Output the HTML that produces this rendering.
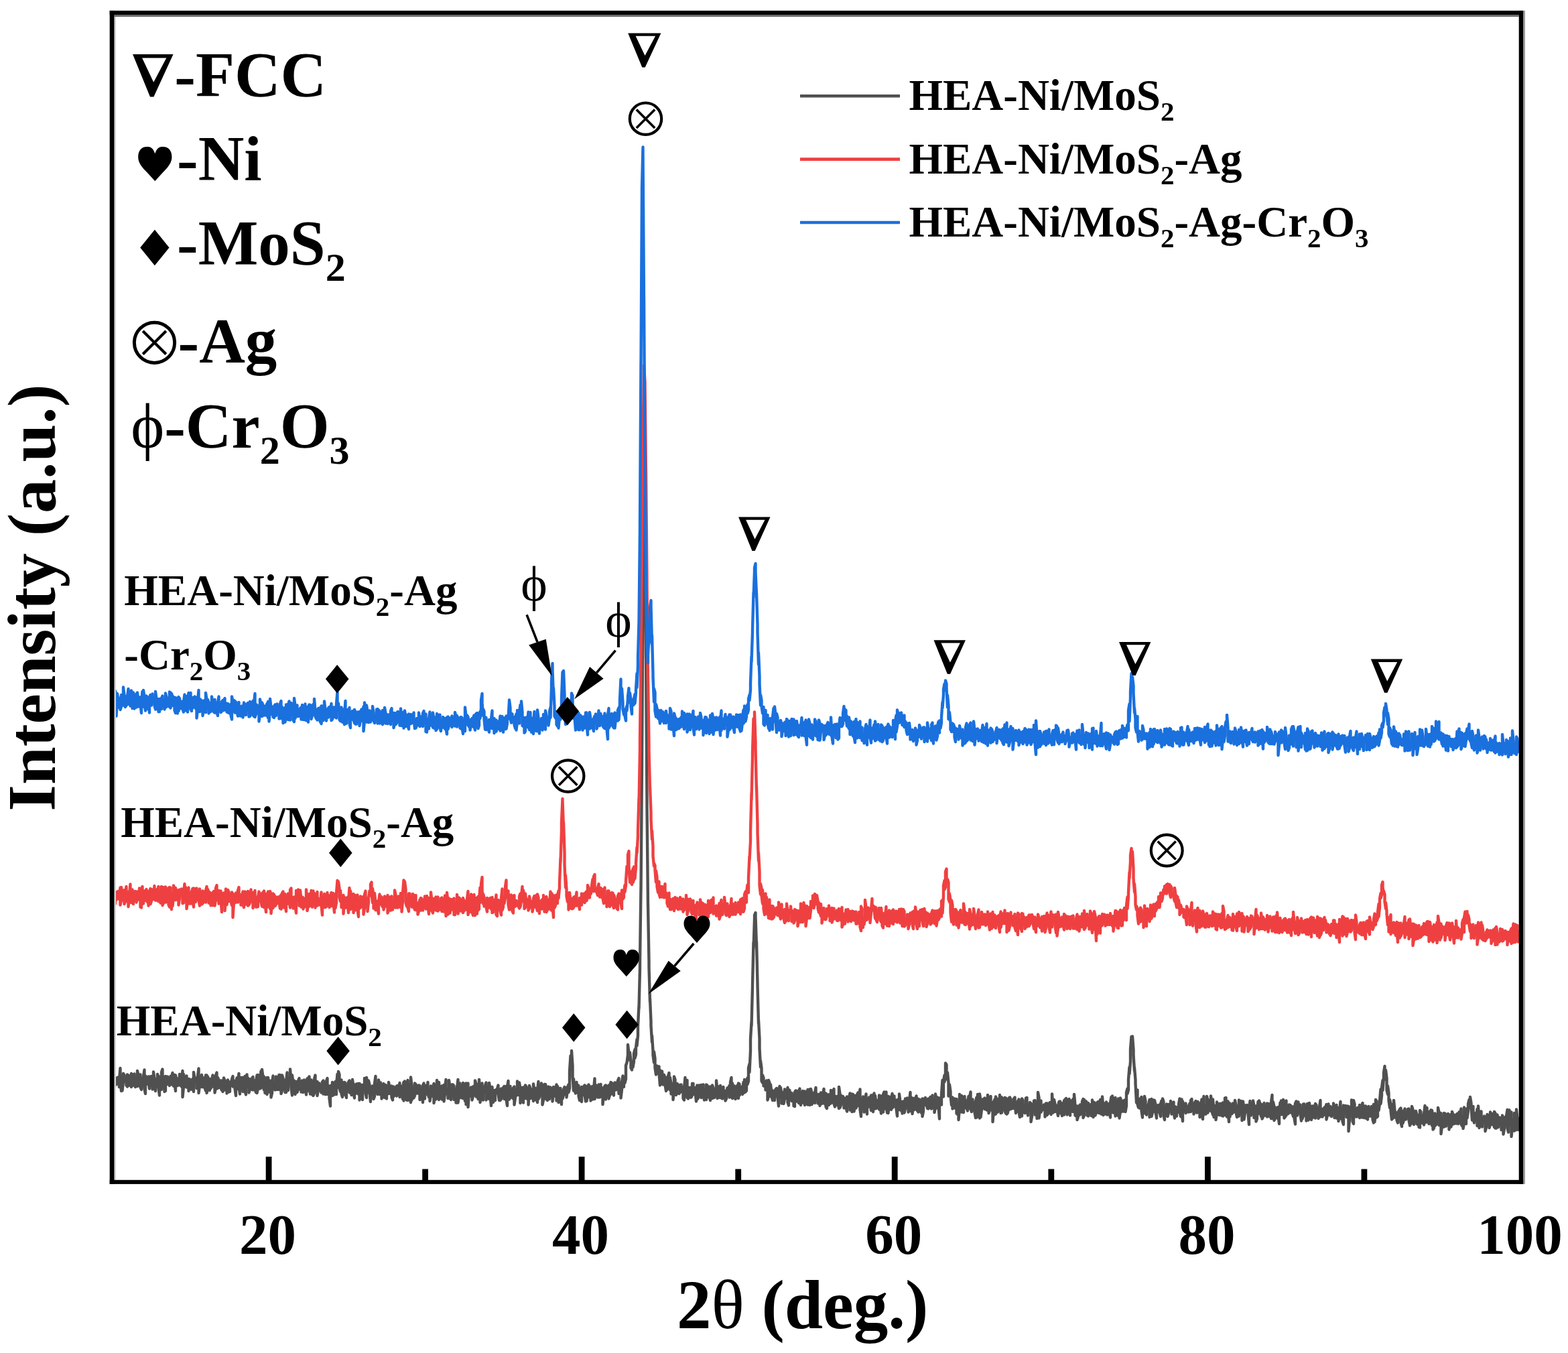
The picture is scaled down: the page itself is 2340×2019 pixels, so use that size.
<!DOCTYPE html><html><head><meta charset="utf-8"><style>html,body{margin:0;padding:0;background:#fff;}svg{display:block}</style></head><body>
<svg width="2340" height="2019" viewBox="0 0 2340 2019" font-family="'Liberation Serif', serif">
<rect width="2340" height="2019" fill="#fff"/>
<defs><clipPath id="pa"><rect x="171" y="23" width="2096" height="1738"/></clipPath></defs>
<g clip-path="url(#pa)" fill="none" stroke-linejoin="round" stroke-linecap="butt">
<path transform="scale(0.5)" d="M341 3208l0 29 3 2 0 -20 3 7 0 8 3 1 0 -19 3 -1 0 12 3 17 0 -22 3 -34 0 36 3 32 0 -45 3 10 0 34 3 -26 0 -25 3 5 0 17 3 2 0 -8 3 -5 0 24 3 4 0 -36 3 2 0 31 3 -9 0 -20 3 10 0 17 3 6 0 -40 3 12 0 24 3 -14 0 -19 3 -2 0 33 3 6 0 -29 3 16 0 9 3 2 0 -46 3 12 0 24 3 8 0 -21 3 -12 0 38 3 7 0 -34 3 7 0 15 3 -3 0 -24 3 -20 0 56 3 15 0 -53 3 5 0 20 3 -4 0 -16 3 -3 0 15 3 21 0 -36 3 10 0 13 3 4 0 -28 3 2 0 37 3 -20 0 -32 3 21 0 21 3 15 0 -24 3 -11 0 9 3 11 0 -35 3 7 0 34 3 22 0 -53 3 -3 0 28 3 11 0 -52 3 -9 0 52 3 2 0 -31 3 0 0 44 3 -2 0 -44 3 4 0 21 3 -9 0 -15 3 11 0 6 3 10 0 -15 3 -13 0 25 3 -1 0 -22 3 -12 0 34 3 5 0 -31 3 -2 0 25 3 23 0 -47 3 16 0 10 3 5 0 -20 3 -2 0 19 3 2 0 -33 3 5 0 20 3 12 0 -25 3 -22 0 78 3 -31 0 -37 3 18 0 19 3 -6 0 -19 3 -7 0 34 3 -3 0 -9 3 -13 0 36 3 -27 0 -8 3 6 0 24 3 0 0 -24 3 -7 0 10 3 28 0 -58 3 19 0 11 3 -1 0 -12 3 7 0 24 3 -7 0 -28 3 -24 0 73 3 -22 0 -27 3 8 0 19 3 4 0 -36 3 19 0 17 3 0 0 -27 3 5 0 24 3 9 0 -46 3 0 0 53 3 -11 0 -38 3 10 0 24 3 7 0 -22 3 -12 0 28 3 -5 0 -21 3 -13 0 22 3 12 0 -22 3 -8 0 48 3 -15 0 -36 3 -9 0 48 3 -1 0 -32 3 7 0 23 3 -4 0 -12 3 -5 0 22 3 7 0 -28 3 -2 0 34 3 -17 0 -24 3 7 0 29 3 -7 0 -19 3 2 0 34 3 -29 0 -11 3 11 0 25 3 -1 0 -23 3 -7 0 9 3 3 0 -19 3 -9 0 31 3 -1 0 -17 3 6 0 17 3 22 0 -37 3 -16 0 19 3 14 0 -21 3 -25 0 38 3 23 0 -50 3 2 0 33 3 -7 0 -27 3 0 0 42 3 -12 0 -27 3 -7 0 44 3 11 0 -43 3 -17 0 20 3 16 0 -26 3 26 0 18 3 -12 0 -28 3 -1 0 31 3 1 0 -33 3 -5 0 39 3 -7 0 -12 3 -9 0 25 3 10 0 -32 3 -19 0 53 3 -14 0 -40 3 2 0 30 3 9 0 -18 3 -34 0 50 3 -10 0 -45 3 23 0 16 3 22 0 -40 3 11 0 38 3 0 0 -31 3 -15 0 50 3 -18 0 -32 3 17 0 13 3 14 0 -33 3 -2 0 50 3 -13 0 -30 3 -21 0 39 3 -4 0 -16 3 8 0 15 3 -26 0 -14 3 16 0 23 3 -20 0 -9 3 -15 0 44 3 -11 0 -32 3 0 0 55 3 -9 0 -46 3 10 0 31 3 1 0 -24 3 -3 0 36 3 0 0 -32 3 -27 0 53 3 0 0 -18 3 -19 0 16 3 0 0 -42 3 37 0 17 3 24 0 -60 3 24 0 30 3 -14 0 -24 3 11 0 30 3 -33 0 -5 3 14 0 18 3 -12 0 -22 3 -8 0 33 3 -11 0 -13 3 18 0 14 3 -10 0 -24 3 10 0 25 3 -14 0 -23 3 9 0 14 3 21 0 -35 3 -13 0 38 3 -14 0 -24 3 -6 0 28 3 24 0 -25 3 -17 0 36 3 8 0 -39 3 8 0 34 3 -7 0 -43 3 -11 0 35 3 14 0 -27 3 -3 0 42 3 -19 0 -12 3 -6 0 12 3 10 0 -17 3 4 0 19 3 -11 0 -21 3 -4 0 40 3 -14 0 -17 3 -4 0 36 3 0 0 -39 3 -9 0 39 3 9 0 -24 3 -1 0 37 3 23 0 -58 3 -4 0 30 3 1 0 -40 3 4 0 18 3 15 0 -31 3 -8 0 22 3 16 0 -27 3 -33 0 40 3 -15 0 -33 3 9 0 40 3 11 0 -28 3 -7 0 41 3 10 0 -44 3 3 0 27 3 7 0 -37 3 2 0 32 3 12 0 -31 3 -5 0 13 3 -8 0 -15 3 -5 0 36 3 1 0 -32 3 30 0 8 3 -5 0 -41 3 22 0 18 3 15 0 -40 3 3 0 19 3 4 0 -28 3 0 0 25 3 5 0 -31 3 0 0 49 3 -19 0 -27 3 3 0 27 3 15 0 -44 3 9 0 2 3 7 0 -38 3 34 0 12 3 12 0 -60 3 24 0 22 3 -29 0 -8 3 13 0 19 3 31 0 -37 3 -8 0 22 3 1 0 -25 3 8 0 31 3 -8 0 -38 3 -22 0 39 3 10 0 -25 3 0 0 30 3 -2 0 -41 3 22 0 21 3 0 0 -35 3 29 0 19 3 -9 0 -25 3 -11 0 28 3 14 0 -34 3 -4 0 12 3 29 0 -38 3 1 0 23 3 -5 0 -30 3 16 0 18 3 0 0 -15 3 -8 0 34 3 8 0 -31 3 -9 0 29 3 -5 0 -21 3 8 0 9 3 8 0 -30 3 -1 0 16 3 10 0 -10 3 -24 0 42 3 -10 0 -23 3 9 0 11 3 19 0 -35 3 -15 0 55 3 -22 0 -36 3 9 0 30 3 17 0 -35 3 -24 0 60 3 -13 0 -35 3 7 0 29 3 18 0 -75 3 25 0 43 3 -25 0 -13 3 8 0 24 3 -7 0 -37 3 3 0 22 3 5 0 -23 3 6 0 14 3 4 0 -25 3 1 0 42 3 -5 0 -25 3 -4 0 15 3 27 0 -50 3 -7 0 34 3 12 0 -37 3 -2 0 26 3 -6 0 -6 3 -24 0 35 3 9 0 -22 3 14 0 20 3 -19 0 -26 3 13 0 15 3 3 0 -24 3 -14 0 58 3 -18 0 -21 3 -14 0 42 3 -11 0 -46 3 20 0 23 3 15 0 -52 3 38 0 10 3 -12 0 -13 3 -12 0 40 3 -3 0 -29 3 -11 0 49 3 -22 0 -12 3 -31 0 42 3 1 0 -9 3 -5 0 27 3 -33 0 -21 3 20 0 32 3 6 0 -31 3 -14 0 35 3 -2 0 -33 3 4 0 41 3 -7 0 -24 3 0 0 40 3 -24 0 -20 3 -25 0 69 3 -20 0 -15 3 -23 0 27 3 16 0 -25 3 -11 0 37 3 1 0 -46 3 4 0 23 3 27 0 -48 3 -5 0 63 3 -21 0 -34 3 -8 0 71 3 -43 0 -13 3 9 0 14 3 -3 0 -23 3 14 0 24 3 -13 0 -27 3 -2 0 28 3 -8 0 -36 3 10 0 38 3 -4 0 -26 3 -7 0 44 3 -10 0 -48 3 44 0 24 3 -15 0 -28 3 -14 0 38 3 12 0 -22 3 -16 0 9 3 7 0 -21 3 -9 0 52 3 -12 0 -12 3 -16 0 9 3 28 0 -48 3 16 0 20 3 32 0 -34 3 -22 0 35 3 11 0 -32 3 -4 0 18 3 12 0 -26 3 -6 0 10 3 1 0 -13 3 -11 0 26 3 19 0 -33 3 1 0 32 3 -4 0 -31 3 1 0 14 3 9 0 -26 3 -5 0 38 3 -1 0 -25 3 -12 0 40 3 18 0 -56 3 -18 0 37 3 18 0 -25 3 -14 0 35 3 -8 0 -10 3 -9 0 23 3 6 0 -32 3 -4 0 54 3 -22 0 -23 3 1 0 17 3 -8 0 -35 3 21 0 20 3 0 0 -37 3 18 0 43 3 -21 0 -25 3 8 0 25 3 12 0 -46 3 10 0 12 3 11 0 -39 3 5 0 17 3 19 0 -32 3 18 0 31 3 -42 0 -15 3 9 0 29 3 -9 0 -17 3 9 0 6 3 19 0 -51 3 21 0 27 3 -16 0 -19 3 22 0 8 3 12 0 -37 3 -25 0 52 3 -6 0 -26 3 -9 0 30 3 -15 0 -21 3 22 0 42 3 -15 0 -38 3 -8 0 37 3 6 0 -43 3 16 0 29 3 3 0 -31 3 -10 0 28 3 9 0 -27 3 -8 0 22 3 6 0 -24 3 0 0 38 3 -26 0 -17 3 12 0 15 3 -4 0 -16 3 -14 0 48 3 -8 0 -35 3 7 0 41 3 -8 0 -28 3 -6 0 33 3 15 0 -36 3 -3 0 22 3 -12 0 -15 3 -8 0 14 3 8 0 -14 3 -6 0 29 3 -23 0 -8 3 -7 0 23 3 -12 0 -50 3 -47 0 28 3 -1 0 -42 3 45 0 32 3 42 0 -35 3 24 0 9 3 10 0 -18 3 -15 0 25 3 5 0 -22 3 2 0 31 3 13 0 -36 3 11 0 17 3 12 0 -44 3 2 0 22 3 -6 0 -18 3 -5 0 28 3 20 0 -46 3 12 0 33 3 -25 0 -14 3 -10 0 32 3 6 0 -31 3 -1 0 42 3 -7 0 -34 3 -2 0 39 3 -18 0 -11 3 -33 0 61 3 -15 0 -27 3 13 0 17 3 7 0 -25 3 -13 0 28 3 10 0 -37 3 -2 0 37 3 -18 0 -7 3 -1 0 49 3 -32 0 -12 3 -11 0 24 3 16 0 -42 3 5 0 30 3 -19 0 -8 3 -8 0 40 3 -11 0 -21 3 -17 0 36 3 -11 0 -23 3 7 0 22 3 8 0 -23 3 -15 0 12 3 10 0 -7 3 -15 0 21 3 1 0 -28 3 -7 0 46 3 -1 0 -31 3 3 0 42 3 -25 0 -23 3 -18 0 22 3 11 0 -27 3 -3 0 18 3 -12 0 -40 3 -9 0 1 3 -24 0 -30 3 27 0 9 3 10 0 -23 3 26 0 20 3 6 0 -25 3 2 0 15 3 -17 0 -24 3 -12 0 26 3 -11 0 -20 3 -25 0 19 3 -30 0 -29 3 -61 0 9 3 -120 0 -20 3 -222 0 8 3 -375 0 -7 3 -495 0 12 3 -346 0 -22 3 75 0 27 3 438 0 -20 3 455 0 9 3 298 0 -8 3 173 0 17 3 104 0 -11 3 69 0 12 3 49 0 -19 3 45 0 13 3 22 0 -32 3 20 0 28 3 20 0 -25 3 -1 0 16 3 7 0 -15 3 -6 0 19 3 37 0 -45 3 6 0 31 3 4 0 -38 3 30 0 10 3 -7 0 -22 3 8 0 21 3 19 0 -20 3 -20 0 36 3 -6 0 -34 3 -10 0 43 3 8 0 -37 3 18 0 31 3 -13 0 -18 3 22 0 26 3 -31 0 -38 3 9 0 25 3 21 0 -21 3 -13 0 14 3 15 0 -26 3 13 0 14 3 -4 0 -22 3 -1 0 21 3 -3 0 -11 3 5 0 29 3 5 0 -36 3 -31 0 54 3 3 0 -45 3 -4 0 52 3 3 0 -34 3 15 0 14 3 1 0 -29 3 4 0 25 3 -6 0 -35 3 0 0 30 3 2 0 -20 3 5 0 6 3 30 0 -38 3 -10 0 42 3 -4 0 -23 3 -15 0 29 3 2 0 -13 3 -19 0 38 3 -18 0 -5 3 -16 0 27 3 19 0 -32 3 2 0 13 3 16 0 -45 3 2 0 21 3 14 0 -23 3 -7 0 27 3 13 0 -41 3 4 0 19 3 12 0 -39 3 8 0 21 3 8 0 -12 3 -14 0 20 3 -3 0 -42 3 30 0 23 3 -18 0 -17 3 4 0 29 3 -8 0 -28 3 10 0 27 3 2 0 -32 3 -3 0 8 3 25 0 -21 3 0 0 29 3 -6 0 -16 3 -16 0 17 3 -6 0 -8 3 -10 0 35 3 -5 0 -40 3 -14 0 56 3 6 0 -45 3 16 0 27 3 0 0 -35 3 9 0 30 3 -4 0 -29 3 -8 0 28 3 11 0 -45 3 2 0 34 3 -6 0 -20 3 13 0 6 3 4 0 -13 3 -23 0 21 3 10 0 -39 3 17 0 20 3 -4 0 -26 3 -12 0 19 3 -10 0 -39 3 -12 0 25 3 -64 0 -35 3 -51 0 12 3 -118 0 -5 3 -127 0 20 3 -90 0 -11 3 -7 0 12 3 88 0 -14 3 127 0 5 3 113 0 -11 3 56 0 29 3 56 0 -19 3 22 0 38 3 5 0 -22 3 8 0 24 3 1 0 -9 3 -5 0 25 3 -2 0 -26 3 27 0 31 3 -11 0 -48 3 8 0 39 3 1 0 -35 3 26 0 10 3 11 0 -29 3 6 0 15 3 8 0 -26 3 -7 0 22 3 -2 0 -23 3 3 0 20 3 30 0 -43 3 -16 0 32 3 -5 0 -23 3 23 0 24 3 -9 0 -24 3 6 0 28 3 -16 0 -27 3 8 0 19 3 -1 0 -6 3 -25 0 44 3 9 0 -47 3 2 0 28 3 -7 0 -5 3 -8 0 24 3 -6 0 -7 3 -6 0 34 3 1 0 -42 3 -5 0 33 3 -14 0 -18 3 14 0 15 3 7 0 -34 3 -9 0 36 3 13 0 -37 3 8 0 23 3 -7 0 -29 3 7 0 21 3 14 0 -41 3 8 0 30 3 -5 0 -23 3 -15 0 45 3 -13 0 -18 3 -15 0 47 3 -2 0 -46 3 13 0 33 3 -9 0 -23 3 -2 0 26 3 4 0 -30 3 -16 0 35 3 -2 0 -14 3 4 0 24 3 -3 0 -24 3 7 0 27 3 -18 0 -21 3 1 0 32 3 -2 0 -25 3 -17 0 41 3 4 0 -24 3 -8 0 40 3 5 0 -30 3 -11 0 24 3 7 0 -31 3 1 0 26 3 -1 0 -39 3 14 0 21 3 1 0 -33 3 -7 0 44 3 9 0 -32 3 1 0 26 3 -5 0 -18 3 -4 0 22 3 15 0 -64 3 21 0 41 3 -8 0 -29 3 10 0 14 3 -11 0 -10 3 7 0 28 3 -4 0 -25 3 0 0 27 3 12 0 -44 3 19 0 9 3 1 0 -24 3 -15 0 50 3 -23 0 -21 3 -4 0 53 3 -25 0 -27 3 19 0 32 3 -20 0 -27 3 12 0 25 3 -14 0 -26 3 -6 0 39 3 -5 0 -21 3 -23 0 60 3 21 0 -52 3 3 0 27 3 -14 0 -23 3 7 0 39 3 -13 0 -19 3 -22 0 33 3 27 0 -46 3 8 0 17 3 -4 0 -25 3 3 0 16 3 20 0 -45 3 0 0 19 3 30 0 -43 3 -12 0 21 3 25 0 -39 3 23 0 15 3 -5 0 -18 3 -2 0 17 3 11 0 -42 3 1 0 30 3 23 0 -42 3 -10 0 27 3 21 0 -53 3 -7 0 43 3 7 0 -22 3 -28 0 43 3 19 0 -25 3 -24 0 50 3 -30 0 -18 3 0 0 27 3 11 0 -28 3 -20 0 43 3 -3 0 -26 3 -7 0 31 3 -3 0 -17 3 1 0 25 3 23 0 -37 3 -13 0 19 3 12 0 -47 3 23 0 21 3 6 0 -27 3 8 0 27 3 -24 0 -12 3 -1 0 35 3 -12 0 -30 3 5 0 22 3 0 0 -29 3 19 0 23 3 -9 0 -20 3 -30 0 56 3 -18 0 -23 3 12 0 37 3 -28 0 -18 3 0 0 34 3 -3 0 -26 3 -12 0 36 3 8 0 -37 3 10 0 31 3 -15 0 -23 3 19 0 11 3 10 0 -27 3 -15 0 53 3 -16 0 -36 3 0 0 16 3 2 0 -22 3 11 0 9 3 12 0 -18 3 -11 0 30 3 -7 0 -11 3 -17 0 27 3 8 0 -18 3 -22 0 38 3 -12 0 -3 3 -11 0 39 3 -16 0 -39 3 22 0 8 3 12 0 -32 3 16 0 10 3 38 0 -62 3 1 0 18 3 1 0 -30 3 -43 0 39 3 10 0 -46 3 -18 0 20 3 -21 0 -35 3 5 0 20 3 24 0 -21 3 30 0 40 3 -4 0 -30 3 21 0 10 3 30 0 -13 3 -10 0 34 3 -2 0 -26 3 -2 0 22 3 7 0 -8 3 -20 0 43 3 3 0 -33 3 18 0 31 3 -37 0 -39 3 35 0 6 3 12 0 -49 3 14 0 5 3 31 0 -45 3 -3 0 35 3 -11 0 -12 3 13 0 8 3 10 0 -28 3 -15 0 33 3 3 0 -33 3 -16 0 49 3 10 0 -35 3 -2 0 29 3 2 0 -23 3 2 0 28 3 17 0 -49 3 -12 0 60 3 -16 0 -53 3 19 0 19 3 33 0 -72 3 21 0 48 3 -22 0 -31 3 17 0 9 3 -7 0 -20 3 -3 0 33 3 -4 0 -10 3 -17 0 34 3 1 0 -46 3 24 0 30 3 -9 0 -20 3 -21 0 35 3 6 0 -23 3 2 0 56 3 -40 0 -20 3 -7 0 45 3 -1 0 -52 3 15 0 16 3 15 0 -31 3 -9 0 28 3 6 0 -45 3 19 0 35 3 -1 0 -46 3 22 0 15 3 -13 0 -18 3 -5 0 40 3 7 0 -46 3 19 0 29 3 -4 0 -31 3 -13 0 36 3 -12 0 -26 3 6 0 29 3 -6 0 -12 3 -2 0 18 3 -9 0 -20 3 -4 0 18 3 29 0 -24 3 -9 0 29 3 -15 0 -16 3 -6 0 37 3 16 0 -36 3 -11 0 26 3 18 0 -52 3 5 0 20 3 16 0 -22 3 0 0 24 3 -3 0 -42 3 -1 0 27 3 26 0 -27 3 -4 0 18 3 -17 0 -9 3 3 0 55 3 -17 0 -35 3 9 0 12 3 1 0 -33 3 -1 0 43 3 -1 0 -32 3 -3 0 47 3 -16 0 -62 3 16 0 61 3 -23 0 -19 3 -10 0 34 3 -6 0 -9 3 -4 0 10 3 2 0 -15 3 6 0 30 3 -26 0 -14 3 0 0 35 3 -4 0 -28 3 -3 0 11 3 16 0 -30 3 6 0 30 3 -23 0 -38 3 38 0 18 3 -12 0 -27 3 13 0 23 3 -4 0 -15 3 1 0 14 3 16 0 -29 3 -13 0 17 3 17 0 -35 3 10 0 16 3 17 0 -20 3 -18 0 22 3 13 0 -42 3 -4 0 38 3 3 0 -44 3 7 0 42 3 -21 0 -20 3 -6 0 31 3 18 0 -29 3 -15 0 19 3 13 0 -12 3 -25 0 38 3 -11 0 -41 3 33 0 30 3 2 0 -27 3 -3 0 41 3 -10 0 -31 3 13 0 14 3 -1 0 -30 3 6 0 20 3 -7 0 -29 3 -7 0 56 3 -7 0 -47 3 13 0 21 3 -15 0 -14 3 18 0 24 3 2 0 -39 3 7 0 23 3 3 0 -22 3 -7 0 34 3 -28 0 -19 3 18 0 33 3 -14 0 -30 3 12 0 27 3 -14 0 -13 3 -12 0 31 3 -11 0 -22 3 13 0 21 3 -10 0 -30 3 0 0 43 3 -14 0 -38 3 40 0 15 3 -24 0 -11 3 5 0 27 3 -26 0 -10 3 9 0 29 3 -1 0 -31 3 -1 0 18 3 23 0 -44 3 -17 0 34 3 11 0 -48 3 27 0 23 3 -7 0 -36 3 -2 0 55 3 -3 0 -35 3 -7 0 43 3 -6 0 -44 3 28 0 30 3 -22 0 -38 3 11 0 30 3 -14 0 -9 3 -10 0 32 3 -11 0 -22 3 -2 0 36 3 -18 0 -40 3 -11 0 15 3 -11 0 -31 3 -37 0 20 3 -36 0 -38 3 -37 0 27 3 -17 0 -11 3 40 0 16 3 47 0 -10 3 37 0 11 3 57 0 -34 3 -4 0 42 3 10 0 -26 3 10 0 18 3 -5 0 -22 3 -6 0 41 3 20 0 -50 3 2 0 27 3 8 0 -50 3 14 0 35 3 6 0 -25 3 -2 0 10 3 -10 0 -4 3 -14 0 52 3 -28 0 -20 3 -6 0 52 3 -12 0 -34 3 -3 0 13 3 22 0 -34 3 13 0 21 3 19 0 -35 3 -3 0 13 3 7 0 -21 3 6 0 14 3 14 0 -37 3 -10 0 29 3 3 0 -38 3 9 0 42 3 12 0 -37 3 -2 0 27 3 -13 0 -22 3 9 0 28 3 -11 0 -25 3 2 0 17 3 -2 0 -27 3 10 0 29 3 -7 0 -21 3 -8 0 27 3 21 0 -24 3 -10 0 12 3 16 0 -19 3 -7 0 15 3 -5 0 -19 3 -17 0 38 3 15 0 -46 3 -5 0 39 3 26 0 -59 3 14 0 15 3 -8 0 -11 3 -4 0 29 3 -5 0 -16 3 5 0 4 3 9 0 -17 3 -9 0 23 3 2 0 -34 3 -4 0 35 3 -8 0 -12 3 6 0 24 3 -16 0 -19 3 -4 0 22 3 13 0 -21 3 -12 0 32 3 -4 0 -24 3 11 0 31 3 -22 0 -14 3 -17 0 45 3 14 0 -28 3 -40 0 55 3 -6 0 -20 3 8 0 16 3 -14 0 -39 3 13 0 36 3 -20 0 -18 3 15 0 14 3 4 0 -45 3 29 0 16 3 11 0 -46 3 34 0 19 3 -9 0 -25 3 3 0 39 3 -24 0 -29 3 8 0 30 3 -9 0 -19 3 -5 0 34 3 -3 0 -22 3 -10 0 37 3 1 0 -40 3 8 0 14 3 15 0 -51 3 -1 0 38 3 19 0 -41 3 -5 0 27 3 34 0 -43 3 -12 0 40 3 -24 0 -10 3 16 0 9 3 -6 0 -25 3 1 0 25 3 -1 0 -34 3 14 0 21 3 15 0 -19 3 -13 0 24 3 5 0 -48 3 9 0 26 3 4 0 -36 3 17 0 41 3 -24 0 -33 3 25 0 29 3 -21 0 -21 3 8 0 11 3 -6 0 -14 3 11 0 13 3 34 0 -46 3 -24 0 40 3 3 0 -25 3 -13 0 18 3 14 0 -38 3 15 0 36 3 -9 0 -25 3 -1 0 46 3 -8 0 -20 3 -31 0 37 3 -3 0 -37 3 10 0 19 3 18 0 -37 3 12 0 32 3 -6 0 -29 3 -12 0 38 3 -3 0 -13 3 -13 0 28 3 4 0 -40 3 1 0 38 3 -8 0 -29 3 8 0 27 3 8 0 -48 3 -22 0 70 3 -15 0 -34 3 14 0 41 3 -8 0 -31 3 3 0 17 3 12 0 -31 3 -2 0 24 3 26 0 -23 3 -40 0 21 3 14 0 -41 3 19 0 10 3 13 0 -45 3 20 0 35 3 -4 0 -46 3 -2 0 44 3 -14 0 -16 3 3 0 22 3 -7 0 -20 3 1 0 22 3 1 0 -20 3 4 0 16 3 11 0 -23 3 -8 0 36 3 18 0 -62 3 -6 0 37 3 5 0 -19 3 -21 0 33 3 -5 0 -13 3 -7 0 28 3 20 0 -37 3 5 0 26 3 -9 0 -35 3 0 0 34 3 -6 0 -13 3 -9 0 44 3 -13 0 -38 3 12 0 37 3 -9 0 -42 3 21 0 22 3 7 0 -36 3 -5 0 18 3 16 0 -27 3 -8 0 23 3 14 0 -43 3 4 0 29 3 -6 0 -12 3 -3 0 32 3 -12 0 -22 3 -20 0 49 3 -3 0 -20 3 0 0 23 3 -10 0 -1 3 -17 0 15 3 8 0 -22 3 -10 0 45 3 -13 0 -19 3 -14 0 29 3 4 0 -16 3 -10 0 17 3 13 0 -27 3 3 0 20 3 -14 0 -21 3 14 0 29 3 -13 0 -13 3 -12 0 39 3 -6 0 -23 3 -2 0 40 3 -25 0 -5 3 -28 0 49 3 3 0 -26 3 -5 0 38 3 9 0 -57 3 9 0 14 3 0 0 -22 3 2 0 32 3 -10 0 -23 3 1 0 74 3 -37 0 -14 3 -20 0 19 3 6 0 -47 3 26 0 38 3 7 0 -70 3 11 0 38 3 -10 0 -14 3 0 0 24 3 -9 0 -18 3 3 0 19 3 8 0 -38 3 15 0 13 3 9 0 -34 3 -9 0 41 3 3 0 -30 3 -5 0 35 3 1 0 -36 3 4 0 32 3 4 0 -37 3 -2 0 21 3 8 0 -21 3 7 0 14 3 -13 0 -16 3 10 0 29 3 10 0 -55 3 7 0 45 3 -35 0 -31 3 5 0 48 3 -3 0 -29 3 -3 0 14 3 -19 0 -9 3 -35 0 43 3 -24 0 -23 3 -23 0 30 3 -39 0 -14 3 -19 0 29 3 10 0 -27 3 24 0 35 3 13 0 -25 3 21 0 22 3 22 0 -24 3 14 0 18 3 27 0 -45 3 6 0 36 3 -16 0 -38 3 32 0 19 3 -2 0 -14 3 12 0 12 3 8 0 -19 3 -17 0 21 3 1 0 -27 3 -3 0 43 3 12 0 -47 3 7 0 30 3 -10 0 -21 3 -12 0 22 3 10 0 -12 3 -9 0 6 3 9 0 -25 3 -1 0 33 3 17 0 -31 3 -13 0 40 3 -13 0 -40 3 10 0 24 3 20 0 -40 3 14 0 19 3 -23 0 -10 3 12 0 27 3 1 0 -28 3 20 0 16 3 1 0 -51 3 5 0 33 3 -10 0 -12 3 0 0 20 3 7 0 -30 3 -27 0 51 3 -20 0 -6 3 -19 0 43 3 -4 0 -26 3 -1 0 36 3 -5 0 -30 3 -6 0 31 3 15 0 -45 3 22 0 35 3 -4 0 -43 3 -1 0 37 3 -3 0 -25 3 -5 0 27 3 -2 0 -46 3 13 0 39 3 -10 0 -16 3 -10 0 62 3 -23 0 -25 3 1 0 20 3 6 0 -41 3 1 0 30 3 8 0 -35 3 5 0 23 3 -3 0 -27 3 3 0 44 3 -26 0 -14 3 -5 0 37 3 -21 0 -24 3 10 0 27 3 -1 0 -27 3 11 0 11 3 4 0 -25 3 -4 0 16 3 14 0 -28 3 -7 0 31 3 -6 0 -20 3 -15 0 46 3 5 0 -28 3 16 0 20 3 -17 0 -46 3 25 0 19 3 5 0 -41 3 -5 0 29 3 -21 0 -22 3 -12 0 25 3 -11 0 -22 3 18 0 12 3 39 0 -23 3 -18 0 35 3 14 0 -30 3 9 0 10 3 3 0 -6 3 -27 0 50 3 -30 0 -29 3 35 0 30 3 -14 0 -20 3 -15 0 37 3 9 0 -17 3 -12 0 15 3 -2 0 -16 3 11 0 34 3 -11 0 -19 3 -20 0 30 3 1 0 -24 3 -5 0 38 3 -9 0 -38 3 15 0 11 3 11 0 -32 3 17 0 9 3 14 0 -46 3 5 0 44 3 0 0 -30 3 -10 0 32 3 5 0 -31 3 9 0 15 3 -2 0 -19 3 9 0 27 3 0 0 -43 3 9 0 47 3 -17 0 -9 3 -25 0 23 3 2 0 -28 3 -19 0 54 3 13 0 -49 3 -17 0 46 3 1 0 -31 3 -10 0 73 3 -29 0 -18 3 -4 0 22 3 12 0 -53 3 22 0 22 3 6 0 -61 3 27 0 27 3 7 0 -34 3 11 0 16" stroke="#505050" stroke-width="8.8"/>
<path transform="scale(0.5)" d="M341 2638l0 37 3 22 0 -30 3 -3 0 22 3 -8 0 -17 3 -1 0 20 3 4 0 -9 3 -26 0 52 3 -17 0 -36 3 27 0 12 3 -3 0 -27 3 0 0 41 3 -7 0 -26 3 -19 0 42 3 2 0 -16 3 -12 0 44 3 -24 0 -12 3 -31 0 43 3 12 0 -21 3 -18 0 24 3 19 0 -38 3 3 0 22 3 -9 0 -16 3 1 0 32 3 -18 0 -14 3 1 0 5 3 19 0 -35 3 16 0 40 3 2 0 -56 3 -7 0 40 3 11 0 -37 3 -1 0 28 3 1 0 -27 3 -7 0 29 3 9 0 -30 3 -2 0 43 3 -25 0 -16 3 -10 0 46 3 -9 0 -35 3 7 0 13 3 10 0 -12 3 -28 0 27 3 16 0 -17 3 -15 0 31 3 2 0 -27 3 -15 0 44 3 -5 0 -26 3 11 0 25 3 -9 0 -40 3 18 0 38 3 -8 0 -46 3 14 0 25 3 6 0 -46 3 23 0 22 3 -7 0 -14 3 -21 0 50 3 7 0 -59 3 1 0 35 3 30 0 -48 3 2 0 36 3 -28 0 -33 3 10 0 29 3 4 0 -36 3 20 0 15 3 -17 0 -11 3 7 0 37 3 -20 0 -26 3 1 0 14 3 1 0 -18 3 18 0 25 3 -1 0 -30 3 -27 0 49 3 -18 0 -21 3 14 0 50 3 -21 0 -21 3 -21 0 37 3 11 0 -33 3 4 0 29 3 -1 0 -35 3 -9 0 32 3 23 0 -56 3 1 0 29 3 11 0 -32 3 -9 0 34 3 1 0 -18 3 -7 0 25 3 17 0 -50 3 22 0 17 3 7 0 -28 3 -12 0 37 3 -6 0 -29 3 7 0 10 3 15 0 -35 3 -12 0 31 3 6 0 -29 3 9 0 32 3 -8 0 -24 3 3 0 36 3 -9 0 -20 3 -9 0 38 3 -7 0 -35 3 1 0 42 3 -20 0 -32 3 -9 0 44 3 1 0 -15 3 -14 0 39 3 -15 0 -13 3 -10 0 24 3 39 0 -56 3 6 0 25 3 1 0 -33 3 1 0 52 3 -47 0 -18 3 9 0 38 3 -28 0 -16 3 6 0 28 3 -1 0 -16 3 -4 0 20 3 13 0 -39 3 5 0 70 3 -46 0 -22 3 12 0 13 3 -2 0 -28 3 6 0 20 3 2 0 -35 3 -10 0 40 3 -4 0 -14 3 5 0 26 3 -13 0 -15 3 -12 0 38 3 9 0 -42 3 -5 0 25 3 13 0 -36 3 12 0 10 3 18 0 -43 3 20 0 21 3 -7 0 -20 3 -19 0 29 3 4 0 -19 3 -5 0 46 3 -21 0 -15 3 -16 0 19 3 30 0 -30 3 15 0 15 3 -1 0 -28 3 -17 0 26 3 -4 0 -5 3 -11 0 25 3 13 0 -26 3 -16 0 43 3 2 0 -49 3 23 0 12 3 28 0 -52 3 -3 0 41 3 -17 0 -30 3 5 0 25 3 21 0 -52 3 9 0 57 3 -28 0 -26 3 -5 0 43 3 -22 0 -18 3 7 0 27 3 -5 0 -22 3 9 0 5 3 4 0 -18 3 0 0 17 3 17 0 -35 3 -5 0 42 3 -10 0 -37 3 -5 0 37 3 11 0 -31 3 -10 0 18 3 34 0 -44 3 4 0 18 3 -3 0 -28 3 17 0 5 3 20 0 -53 3 -5 0 42 3 9 0 -24 3 7 0 26 3 -22 0 -12 3 15 0 12 3 21 0 -67 3 10 0 20 3 -4 0 -29 3 19 0 29 3 -3 0 -43 3 28 0 22 3 -4 0 -26 3 2 0 34 3 -17 0 -14 3 10 0 14 3 -16 0 -35 3 31 0 32 3 -15 0 -31 3 -4 0 37 3 -4 0 -5 3 -38 0 43 3 6 0 -34 3 -14 0 38 3 -4 0 -27 3 8 0 35 3 -19 0 -10 3 -18 0 41 3 -2 0 -11 3 -7 0 10 3 8 0 -10 3 -28 0 36 3 32 0 -55 3 1 0 30 3 1 0 -40 3 6 0 34 3 -2 0 -20 3 -22 0 32 3 7 0 -31 3 5 0 31 3 -12 0 -17 3 -15 0 40 3 -9 0 -21 3 -8 0 30 3 27 0 -53 3 17 0 23 3 -17 0 -27 3 -38 0 28 3 -1 0 -24 3 20 0 27 3 12 0 -32 3 35 0 15 3 -3 0 -19 3 -14 0 55 3 -38 0 -11 3 4 0 27 3 -9 0 -20 3 -2 0 17 3 29 0 -34 3 -40 0 46 3 18 0 -55 3 18 0 34 3 -4 0 -38 3 -1 0 56 3 -10 0 -34 3 -8 0 38 3 6 0 -37 3 -8 0 44 3 21 0 -38 3 -16 0 29 3 -2 0 -34 3 2 0 29 3 -2 0 -21 3 -7 0 53 3 -19 0 -40 3 -11 0 48 3 -5 0 -22 3 2 0 38 3 -29 0 -11 3 -21 0 14 3 -10 0 -24 3 -6 0 32 3 29 0 -42 3 24 0 35 3 -8 0 -37 3 29 0 21 3 -10 0 -16 3 -1 0 23 3 15 0 -34 3 -24 0 23 3 7 0 -24 3 2 0 23 3 7 0 -20 3 -5 0 33 3 -14 0 -26 3 11 0 19 3 0 0 -7 3 -26 0 53 3 -8 0 -23 3 -17 0 28 3 12 0 -26 3 -16 0 16 3 24 0 -26 3 4 0 12 3 3 0 -51 3 14 0 38 3 -7 0 -26 3 13 0 20 3 -10 0 -24 3 18 0 14 3 1 0 -42 3 24 0 31 3 -33 0 -21 3 -40 0 18 3 7 0 -21 3 24 0 39 3 11 0 -18 3 -6 0 27 3 12 0 -53 3 0 0 21 3 11 0 -23 3 12 0 19 3 -7 0 -32 3 4 0 36 3 7 0 -38 3 -5 0 44 3 -4 0 -18 3 3 0 32 3 -10 0 -19 3 -15 0 17 3 15 0 -37 3 2 0 33 3 2 0 -30 3 7 0 14 3 -6 0 -27 3 3 0 35 3 -7 0 -32 3 23 0 8 3 23 0 -48 3 10 0 27 3 -1 0 -53 3 26 0 29 3 7 0 -39 3 -4 0 18 3 16 0 -29 3 -10 0 39 3 2 0 -11 3 -30 0 42 3 -6 0 -18 3 -4 0 21 3 4 0 -35 3 -2 0 41 3 -2 0 -29 3 -3 0 35 3 -7 0 -41 3 15 0 46 3 -11 0 -59 3 29 0 36 3 -20 0 -28 3 11 0 33 3 -22 0 -19 3 2 0 29 3 -8 0 -23 3 -3 0 49 3 0 0 -34 3 0 0 26 3 -1 0 -51 3 28 0 29 3 -16 0 -32 3 3 0 28 3 9 0 -33 3 6 0 12 3 20 0 -44 3 12 0 27 3 -18 0 -12 3 8 0 18 3 0 0 -32 3 -23 0 70 3 -19 0 -31 3 17 0 24 3 1 0 -53 3 6 0 46 3 11 0 -48 3 -14 0 45 3 17 0 -40 3 -12 0 24 3 23 0 -31 3 -20 0 41 3 -4 0 -30 3 -34 0 45 3 -37 0 -19 3 -20 0 39 3 40 0 -29 3 10 0 27 3 -7 0 -8 3 -4 0 20 3 15 0 -41 3 12 0 18 3 -5 0 -21 3 -4 0 25 3 8 0 -29 3 -6 0 46 3 -1 0 -38 3 13 0 16 3 -6 0 -8 3 -29 0 59 3 4 0 -47 3 -1 0 25 3 0 0 -23 3 10 0 21 3 12 0 -50 3 -28 0 63 3 -9 0 -17 3 -14 0 20 3 -16 0 -34 3 -19 0 25 3 27 0 -18 3 -2 0 40 3 16 0 -44 3 7 0 32 3 4 0 -43 3 6 0 42 3 6 0 -44 3 -9 0 35 3 -2 0 -11 3 -6 0 15 3 -3 0 -8 3 3 0 9 3 7 0 -36 3 -8 0 40 3 -19 0 -15 3 -27 0 24 3 20 0 -33 3 22 0 33 3 -3 0 -42 3 30 0 8 3 -1 0 -20 3 4 0 29 3 -7 0 -35 3 18 0 15 3 -1 0 -16 3 -2 0 32 3 -17 0 -23 3 -7 0 33 3 -1 0 -11 3 -23 0 36 3 10 0 -49 3 10 0 30 3 17 0 -19 3 -18 0 23 3 1 0 -19 3 -10 0 17 3 11 0 -40 3 19 0 30 3 -18 0 -17 3 -10 0 46 3 -7 0 -25 3 -5 0 21 3 7 0 -12 3 -40 0 44 3 12 0 -51 3 5 0 33 3 34 0 -59 3 -6 0 36 3 -6 0 -28 3 -4 0 18 3 7 0 -22 3 -15 0 22 3 -32 0 -14 3 -74 0 12 3 -93 0 -25 3 -71 0 7 3 79 0 -16 3 91 0 35 3 69 0 -37 3 43 0 19 3 17 0 -26 3 18 0 32 3 -22 0 -29 3 25 0 20 3 3 0 -26 3 -4 0 30 3 -3 0 -31 3 -2 0 19 3 8 0 -21 3 -19 0 40 3 -3 0 -14 3 0 0 11 3 17 0 -34 3 4 0 15 3 2 0 -34 3 4 0 20 3 -10 0 -13 3 -2 0 28 3 -10 0 -20 3 -4 0 28 3 -14 0 -32 3 9 0 23 3 5 0 -21 3 -6 0 16 3 -10 0 -14 3 -20 0 32 3 4 0 -44 3 -6 0 43 3 7 0 -9 3 1 0 11 3 9 0 -23 3 -11 0 26 3 13 0 -26 3 -1 0 20 3 8 0 -13 3 -11 0 26 3 16 0 -31 3 -16 0 39 3 6 0 -8 3 -12 0 32 3 -10 0 -37 3 0 0 39 3 8 0 -34 3 -6 0 32 3 3 0 -37 3 1 0 35 3 10 0 -39 3 10 0 23 3 3 0 -20 3 -2 0 26 3 4 0 -41 3 -7 0 26 3 -4 0 -14 3 -8 0 29 3 16 0 -55 3 1 0 25 3 -5 0 -14 3 -22 0 20 3 -19 0 -13 3 -44 0 19 3 -4 0 -50 3 -11 0 47 3 46 0 -33 3 20 0 13 3 7 0 -29 3 -18 0 41 3 -8 0 -39 3 13 0 22 3 -34 0 -12 3 -47 0 17 3 -50 0 -17 3 -97 0 21 3 -167 0 -21 3 -250 0 7 3 -326 0 -11 3 -336 0 26 3 -214 0 -20 3 50 0 12 3 262 0 -6 3 325 0 14 3 288 0 -14 3 203 0 16 3 115 0 -8 3 78 0 19 3 60 0 -25 3 46 0 29 3 30 0 -9 3 7 0 14 3 36 0 -34 3 19 0 28 3 17 0 -29 3 -3 0 36 3 11 0 -33 3 5 0 15 3 12 0 -31 3 5 0 22 3 6 0 -19 3 -22 0 24 3 16 0 -14 3 12 0 19 3 10 0 -24 3 -16 0 19 3 30 0 -31 3 2 0 29 3 -9 0 -17 3 -6 0 22 3 14 0 -31 3 -9 0 21 3 11 0 -24 3 -5 0 15 3 18 0 -17 3 -10 0 26 3 -3 0 -32 3 6 0 29 3 -14 0 -13 3 -3 0 38 3 -11 0 -21 3 10 0 15 3 -7 0 -35 3 32 0 26 3 -13 0 -33 3 12 0 12 3 6 0 -31 3 8 0 31 3 6 0 -12 3 -28 0 34 3 7 0 -27 3 0 0 35 3 6 0 -28 3 -22 0 17 3 3 0 -14 3 9 0 23 3 -11 0 -35 3 16 0 25 3 22 0 -53 3 2 0 40 3 -8 0 -27 3 -2 0 10 3 26 0 -9 3 -25 0 22 3 12 0 -48 3 2 0 29 3 5 0 -23 3 -15 0 35 3 -15 0 -9 3 -18 0 48 3 -6 0 -14 3 -1 0 7 3 20 0 -30 3 2 0 18 3 11 0 -18 3 -20 0 47 3 -10 0 -30 3 -17 0 37 3 7 0 -19 3 -12 0 16 3 1 0 -38 3 28 0 21 3 5 0 -13 3 -22 0 34 3 -2 0 -22 3 -3 0 32 3 -13 0 -7 3 -34 0 47 3 0 0 -32 3 9 0 23 3 -5 0 -18 3 -12 0 35 3 -9 0 -10 3 -8 0 9 3 11 0 -29 3 8 0 9 3 18 0 -43 3 -2 0 25 3 13 0 -40 3 3 0 37 3 -10 0 -41 3 -9 0 28 3 4 0 -30 3 -22 0 19 3 4 0 -44 3 -65 0 12 3 -56 0 -30 3 -114 0 21 3 -128 0 -16 3 -99 0 20 3 -15 0 -25 3 91 0 19 3 126 0 -15 3 116 0 22 3 85 0 -24 3 57 0 40 3 27 0 -31 3 13 0 22 3 24 0 -41 3 40 0 16 3 18 0 -49 3 -14 0 47 3 13 0 -49 3 25 0 11 3 26 0 -52 3 -3 0 56 3 -12 0 -23 3 -2 0 39 3 -1 0 -38 3 5 0 30 3 -11 0 -14 3 -1 0 15 3 -1 0 -18 3 -1 0 24 3 -2 0 -37 3 17 0 22 3 11 0 -37 3 -7 0 37 3 -9 0 -11 3 12 0 13 3 13 0 -40 3 13 0 23 3 -6 0 -47 3 23 0 23 3 5 0 -32 3 1 0 7 3 4 0 -23 3 26 0 19 3 -19 0 -12 3 2 0 34 3 -7 0 -34 3 3 0 24 3 -6 0 -18 3 7 0 40 3 -16 0 -29 3 -2 0 14 3 21 0 -55 3 28 0 19 3 8 0 -30 3 -28 0 34 3 17 0 -43 3 25 0 37 3 -24 0 -36 3 8 0 24 3 4 0 -20 3 -13 0 33 3 -24 0 -26 3 6 0 13 3 -11 0 -25 3 5 0 32 3 -16 0 -26 3 9 0 21 3 -3 0 -23 3 17 0 22 3 12 0 -29 3 8 0 21 3 11 0 -36 3 35 0 22 3 -25 0 -12 3 -8 0 30 3 4 0 -14 3 -7 0 21 3 -13 0 -19 3 11 0 10 3 1 0 -31 3 27 0 18 3 -13 0 -8 3 -17 0 43 3 -13 0 -25 3 -4 0 32 3 -7 0 -15 3 9 0 5 3 12 0 -30 3 13 0 18 3 -11 0 -25 3 17 0 14 3 4 0 -19 3 -20 0 59 3 -8 0 -33 3 10 0 12 3 9 0 -15 3 -27 0 28 3 0 0 -25 3 -4 0 37 3 -7 0 -16 3 -8 0 26 3 4 0 -27 3 -4 0 26 3 -7 0 -18 3 1 0 26 3 -2 0 -14 3 -10 0 36 3 0 0 -21 3 -5 0 23 3 -3 0 -29 3 25 0 19 3 12 0 -73 3 7 0 41 3 15 0 -26 3 -4 0 21 3 -17 0 -56 3 23 0 37 3 -1 0 -7 3 -29 0 31 3 -12 0 -16 3 0 0 42 3 -30 0 -9 3 -33 0 35 3 -4 0 -10 3 5 0 7 3 26 0 -34 3 2 0 36 3 7 0 -32 3 -1 0 11 3 8 0 -28 3 13 0 23 3 5 0 -41 3 27 0 26 3 6 0 -38 3 -5 0 13 3 18 0 -23 3 -28 0 43 3 14 0 -41 3 2 0 8 3 32 0 -47 3 12 0 23 3 3 0 -21 3 -16 0 30 3 10 0 -43 3 8 0 19 3 8 0 -21 3 -10 0 31 3 3 0 -17 3 -16 0 31 3 -1 0 -36 3 16 0 25 3 -20 0 -22 3 8 0 43 3 -13 0 -37 3 6 0 45 3 -3 0 -18 3 -2 0 15 3 -13 0 -15 3 5 0 38 3 -14 0 -26 3 -7 0 23 3 -4 0 -13 3 -9 0 37 3 13 0 -51 3 -3 0 38 3 -1 0 -48 3 20 0 31 3 14 0 -42 3 -9 0 23 3 20 0 -29 3 -19 0 22 3 6 0 -25 3 -5 0 35 3 15 0 -23 3 -29 0 35 3 -6 0 -20 3 12 0 33 3 -10 0 -31 3 12 0 14 3 -5 0 -17 3 3 0 27 3 -3 0 -29 3 -10 0 33 3 1 0 -14 3 -18 0 37 3 -3 0 -34 3 15 0 29 3 -20 0 -25 3 0 0 27 3 -6 0 -23 3 -4 0 22 3 1 0 -46 3 -3 0 39 3 -51 0 -31 3 -15 0 27 3 -7 0 -46 3 -9 0 30 3 11 0 -10 3 10 0 49 3 9 0 -25 3 20 0 36 3 28 0 -64 3 15 0 41 3 16 0 -45 3 8 0 22 3 5 0 -35 3 5 0 42 3 -12 0 -26 3 1 0 45 3 -25 0 -19 3 -9 0 31 3 6 0 -24 3 7 0 17 3 -27 0 -29 3 25 0 37 3 1 0 -37 3 20 0 14 3 -8 0 -23 3 10 0 11 3 26 0 -59 3 14 0 36 3 -6 0 -13 3 -16 0 31 3 -8 0 -40 3 20 0 22 3 18 0 -37 3 10 0 19 3 -16 0 -19 3 -14 0 54 3 -1 0 -29 3 7 0 7 3 5 0 -36 3 12 0 25 3 -2 0 -14 3 -14 0 18 3 15 0 -32 3 2 0 21 3 5 0 -37 3 18 0 17 3 19 0 -20 3 -28 0 21 3 23 0 -29 3 -20 0 38 3 6 0 -29 3 -6 0 16 3 23 0 -22 3 -12 0 25 3 -15 0 -11 3 -3 0 32 3 18 0 -40 3 -21 0 47 3 -16 0 -25 3 0 0 28 3 1 0 -12 3 -27 0 39 3 -11 0 -16 3 -2 0 55 3 -15 0 -41 3 13 0 38 3 -13 0 -19 3 -22 0 31 3 -5 0 -10 3 -4 0 27 3 -5 0 -19 3 -10 0 40 3 10 0 -32 3 -8 0 25 3 27 0 -65 3 3 0 32 3 9 0 -19 3 -4 0 25 3 9 0 -54 3 1 0 35 3 -2 0 -24 3 4 0 32 3 -7 0 -21 3 -6 0 28 3 -12 0 -8 3 -15 0 33 3 -5 0 -28 3 4 0 20 3 -1 0 -24 3 8 0 16 3 18 0 -31 3 -4 0 29 3 16 0 -35 3 -3 0 10 3 9 0 -34 3 10 0 8 3 21 0 -15 3 -10 0 11 3 25 0 -43 3 4 0 17 3 15 0 -38 3 1 0 47 3 -13 0 -25 3 -19 0 14 3 22 0 -29 3 0 0 35 3 16 0 -34 3 -28 0 44 3 2 0 -38 3 3 0 21 3 -1 0 -21 3 11 0 20 3 22 0 -55 3 12 0 52 3 -24 0 -47 3 17 0 18 3 9 0 -24 3 -2 0 16 3 8 0 -27 3 11 0 12 3 15 0 -47 3 4 0 25 3 6 0 -22 3 -6 0 37 3 -8 0 -19 3 -9 0 28 3 8 0 -31 3 -5 0 26 3 -2 0 -26 3 -1 0 38 3 -1 0 -19 3 7 0 13 3 -13 0 -17 3 -12 0 45 3 -3 0 -36 3 14 0 30 3 -21 0 -22 3 5 0 25 3 0 0 -39 3 18 0 14 3 15 0 -56 3 22 0 30 3 -10 0 -24 3 -8 0 34 3 -1 0 -24 3 4 0 32 3 -20 0 -34 3 9 0 36 3 20 0 -57 3 3 0 38 3 6 0 -54 3 13 0 23 3 52 0 -68 3 0 0 48 3 -18 0 -32 3 -4 0 37 3 14 0 -24 3 -26 0 29 3 -3 0 -33 3 5 0 14 3 5 0 -23 3 3 0 31 3 -2 0 -23 3 -7 0 28 3 -9 0 -14 3 -4 0 28 3 -2 0 -32 3 22 0 10 3 5 0 -28 3 -1 0 45 3 -24 0 -11 3 -26 0 35 3 9 0 -43 3 7 0 43 3 1 0 -32 3 -17 0 19 3 20 0 -44 3 8 0 39 3 -1 0 -26 3 -20 0 31 3 -7 0 -30 3 7 0 12 3 17 0 -44 3 -25 0 35 3 -36 0 -12 3 -61 0 18 3 -49 0 -19 3 -21 0 16 3 22 0 -28 3 52 0 27 3 41 0 -24 3 38 0 24 3 15 0 -11 3 9 0 20 3 24 0 -44 3 5 0 26 3 7 0 -42 3 6 0 34 3 -2 0 -24 3 8 0 37 3 -23 0 -42 3 24 0 36 3 1 0 -19 3 -33 0 30 3 3 0 -29 3 8 0 26 3 -14 0 -35 3 17 0 23 3 -11 0 -21 3 -10 0 26 3 9 0 -30 3 -6 0 21 3 -6 0 -16 3 -5 0 11 3 5 0 -32 3 -1 0 33 3 -35 0 -8 3 1 0 24 3 -10 0 -13 3 -12 0 14 3 -7 0 -17 3 -2 0 19 3 5 0 -27 3 -2 0 22 3 -5 0 -10 3 -5 0 26 3 12 0 -34 3 6 0 23 3 1 0 -9 3 7 0 6 3 12 0 -40 3 21 0 22 3 15 0 -34 3 3 0 18 3 15 0 -24 3 19 0 25 3 -8 0 -21 3 11 0 11 3 -3 0 -4 3 -2 0 23 3 2 0 -21 3 3 0 17 3 22 0 -55 3 8 0 14 3 7 0 -19 3 8 0 37 3 -10 0 -31 3 -25 0 61 3 8 0 -35 3 -4 0 17 3 7 0 -31 3 3 0 39 3 22 0 -55 3 -16 0 47 3 10 0 -37 3 -12 0 50 3 -14 0 -25 3 -5 0 40 3 -5 0 -40 3 11 0 25 3 12 0 -38 3 6 0 32 3 -9 0 -32 3 20 0 19 3 1 0 -17 3 -16 0 25 3 3 0 -22 3 -7 0 32 3 -1 0 -42 3 8 0 33 3 -11 0 -24 3 1 0 45 3 2 0 -46 3 8 0 22 3 4 0 -34 3 2 0 17 3 21 0 -33 3 -10 0 42 3 -9 0 -55 3 16 0 26 3 28 0 -23 3 -4 0 25 3 -4 0 -24 3 -12 0 36 3 -6 0 -16 3 -8 0 28 3 -7 0 -15 3 3 0 29 3 1 0 -49 3 18 0 18 3 0 0 -28 3 7 0 25 3 10 0 -51 3 10 0 28 3 -1 0 -42 3 20 0 18 3 0 0 -33 3 -1 0 53 3 -5 0 -40 3 5 0 42 3 -22 0 -14 3 7 0 9 3 -8 0 -17 3 9 0 35 3 -5 0 -34 3 2 0 29 3 -6 0 -33 3 2 0 19 3 2 0 -15 3 8 0 39 3 -31 0 -12 3 -31 0 56 3 -7 0 -32 3 9 0 26 3 8 0 -33 3 15 0 16 3 0 0 -47 3 20 0 22 3 5 0 -35 3 8 0 20 3 10 0 -15 3 -16 0 27 3 -6 0 -33 3 7 0 42 3 -18 0 -11 3 -17 0 33 3 0 0 -26 3 14 0 23 3 -9 0 -33 3 0 0 38 3 7 0 -42 3 -7 0 45 3 4 0 -59 3 33 0 12 3 16 0 -32 3 -12 0 22 3 18 0 -32 3 0 0 34 3 -14 0 -17 3 -8 0 28 3 5 0 -35 3 11 0 19 3 12 0 -36 3 1 0 31 3 4 0 -39 3 21 0 3 3 24 0 -19 3 -32 0 34 3 -4 0 -49 3 34 0 12 3 18 0 -15 3 -20 0 27 3 7 0 -47 3 15 0 37 3 -5 0 -36 3 10 0 11 3 0 0 -29 3 26 0 16 3 -23 0 -10 3 5 0 27 3 -6 0 -30 3 13 0 29 3 -3 0 -41 3 19 0 26 3 -11 0 -26 3 -12 0 16 3 40 0 -59 3 18 0 24 3 -11 0 -29 3 17 0 28 3 -7 0 -30 3 4 0 28 3 14 0 -57 3 4 0 29 3 29 0 -39 3 -18 0 51 3 -7 0 -42 3 8 0 19 3 6 0 -22 3 -16 0 23 3 8 0 -23 3 19 0 18 3 -2 0 -23 3 2 0 18 3 9 0 -21 3 8 0 18 3 -10 0 -24 3 -1 0 23 3 4 0 -37 3 0 0 39 3 -16 0 -13 3 23 0 18 3 -12 0 -21 3 -7 0 17 3 37 0 -68 3 16 0 19 3 -6 0 -20 3 -18 0 58 3 -23 0 -33 3 18 0 33 3 -8 0 -38 3 5 0 47 3 -13 0 -39 3 24 0 14 3 -14 0 -17 3 -2 0 34 3 -5 0 -30 3 6 0 16 3 -4 0 -17 3 7 0 28 3 22 0 -73 3 21 0 20 3 10 0 -12 3 -2 0 12 3 6 0 -26 3 -6 0 33 3 3 0 -35 3 20 0 15 3 -6 0 -31 3 14 0 21 3 14 0 -36 3 -16 0 21 3 9 0 -32 3 10 0 22 3 9 0 -52 3 22 0 11 3 0 0 -16 3 -1 0 21 3 -10 0 -20 3 -17 0 34 3 -1 0 -19 3 -11 0 19 3 -8 0 -18 3 -25 0 38 3 -28 0 -25 3 -17 0 15 3 -11 0 -28 3 -10 0 16 3 20 0 -9 3 11 0 21 3 21 0 -18 3 25 0 9 3 32 0 -23 3 11 0 33 3 -16 0 -19 3 -16 0 58 3 -23 0 -11 3 10 0 11 3 9 0 -31 3 10 0 13 3 16 0 -20 3 -20 0 22 3 38 0 -35 3 -22 0 35 3 9 0 -32 3 -12 0 39 3 -8 0 -25 3 10 0 8 3 6 0 -28 3 -21 0 62 3 -24 0 -13 3 -6 0 19 3 16 0 -19 3 -26 0 57 3 -28 0 -31 3 28 0 24 3 1 0 -35 3 -4 0 65 3 -19 0 -45 3 18 0 16 3 11 0 -42 3 3 0 33 3 4 0 -19 3 -20 0 21 3 15 0 -16 3 -10 0 24 3 -4 0 -25 3 -3 0 26 3 -6 0 -28 3 5 0 27 3 -7 0 -11 3 -19 0 39 3 -13 0 -27 3 24 0 36 3 -26 0 -32 3 20 0 23 3 12 0 -22 3 -19 0 45 3 -13 0 -38 3 17 0 8 3 21 0 -33 3 -20 0 61 3 -23 0 -57 3 19 0 30 3 22 0 -49 3 1 0 42 3 -21 0 -14 3 7 0 16 3 2 0 -22 3 4 0 35 3 -24 0 -18 3 -10 0 36 3 -9 0 -14 3 -12 0 32 3 18 0 -31 3 -17 0 33 3 5 0 -40 3 20 0 19 3 21 0 -48 3 11 0 23 3 -14 0 -39 3 38 0 12 3 1 0 -30 3 8 0 16 3 0 0 -14 3 -5 0 29 3 -19 0 -29 3 -11 0 21 3 17 0 -43 3 -18 0 22 3 12 0 -16 3 -19 0 22 3 13 0 -24 3 13 0 18 3 18 0 -22 3 22 0 20 3 -7 0 -24 3 -10 0 36 3 5 0 -30 3 -1 0 16 3 4 0 -27 3 21 0 36 3 -20 0 -46 3 21 0 11 3 14 0 -26 3 -20 0 37 3 13 0 -42 3 21 0 24 3 -6 0 -9 3 0 0 17 3 -6 0 -20 3 -7 0 24 3 -5 0 -12 3 -4 0 16 3 4 0 -21 3 13 0 26 3 -11 0 -25 3 -5 0 31 3 3 0 -30 3 -9 0 50 3 -21 0 -33 3 18 0 35 3 -24 0 -5 3 12 0 9 3 -28 0 -11 3 7 0 28 3 2 0 -35 3 11 0 22 3 -10 0 -12 3 -7 0 17 3 8 0 -22 3 4 0 35 3 -33 0 -5 3 4 0 13 3 11 0 -31 3 -8 0 45 3 -18 0 -14 3 -27 0 56 3 -7 0 -27 3 -20 0 53 3 -17 0 -11 3 -22 0 40 3 9 0 -31 3 9 0 14" stroke="#ef4041" stroke-width="8.8"/>
<path transform="scale(0.5)" d="M341 2054l0 65 3 -32 0 -25 3 16 0 59 3 -52 0 -15 3 17 0 17 3 8 0 -29 3 4 0 31 3 -9 0 -35 3 18 0 11 3 2 0 -54 3 25 0 25 3 9 0 -20 3 -12 0 28 3 -7 0 -19 3 -24 0 45 3 1 0 -34 3 -5 0 44 3 -11 0 -35 3 14 0 39 3 -3 0 -44 3 35 0 13 3 -19 0 -16 3 -9 0 40 3 -11 0 -33 3 25 0 17 3 -6 0 -16 3 -6 0 19 3 28 0 -33 3 -31 0 36 3 9 0 -49 3 19 0 22 3 20 0 -31 3 -13 0 40 3 -3 0 -33 3 2 0 16 3 28 0 -47 3 -6 0 26 3 5 0 -12 3 -22 0 24 3 -7 0 -7 3 6 0 18 3 12 0 -53 3 22 0 22 3 8 0 -27 3 -3 0 38 3 0 0 -36 3 -3 0 19 3 12 0 -32 3 -7 0 8 3 23 0 -12 3 -6 0 27 3 -13 0 -35 3 13 0 28 3 -11 0 -13 3 -3 0 9 3 18 0 -45 3 2 0 46 3 -11 0 -32 3 8 0 19 3 9 0 -26 3 8 0 32 3 8 0 -46 3 12 0 10 3 25 0 -40 3 -9 0 42 3 -17 0 -21 3 23 0 7 3 -5 0 -13 3 -3 0 23 3 9 0 -30 3 -22 0 43 3 4 0 -33 3 -9 0 24 3 23 0 -38 3 -19 0 46 3 -9 0 -24 3 -13 0 48 3 6 0 -28 3 -12 0 31 3 -4 0 -14 3 -16 0 18 3 17 0 -33 3 12 0 50 3 -26 0 -25 3 -32 0 53 3 11 0 -38 3 2 0 35 3 -8 0 -23 3 7 0 37 3 -22 0 -23 3 4 0 25 3 6 0 -58 3 19 0 26 3 2 0 -27 3 8 0 33 3 -12 0 -19 3 16 0 10 3 -7 0 -38 3 20 0 15 3 11 0 -32 3 -5 0 39 3 0 0 -30 3 18 0 8 3 13 0 -39 3 -18 0 42 3 -3 0 -18 3 6 0 20 3 -3 0 -29 3 -4 0 21 3 9 0 -26 3 -10 0 33 3 2 0 -21 3 11 0 16 3 1 0 -26 3 8 0 20 3 -5 0 -18 3 -4 0 34 3 12 0 -68 3 17 0 26 3 -8 0 -24 3 2 0 35 3 -6 0 -26 3 15 0 14 3 13 0 -15 3 -26 0 35 3 5 0 -22 3 -5 0 28 3 -19 0 -11 3 1 0 33 3 -18 0 -26 3 8 0 19 3 10 0 -32 3 -1 0 20 3 -2 0 -21 3 13 0 28 3 -1 0 -44 3 15 0 24 3 -5 0 -25 3 -11 0 42 3 4 0 -40 3 -28 0 70 3 -9 0 -29 3 2 0 24 3 -4 0 -16 3 -1 0 46 3 -21 0 -45 3 19 0 29 3 3 0 -41 3 7 0 25 3 6 0 -17 3 -10 0 6 3 21 0 -28 3 -7 0 28 3 14 0 -48 3 13 0 46 3 -34 0 -33 3 25 0 19 3 2 0 -23 3 6 0 25 3 2 0 -33 3 -6 0 24 3 9 0 -22 3 -13 0 26 3 -7 0 -11 3 9 0 27 3 -24 0 -20 3 -9 0 52 3 -9 0 -25 3 11 0 37 3 -3 0 -37 3 -6 0 43 3 -20 0 -32 3 0 0 31 3 14 0 -43 3 -12 0 41 3 15 0 -28 3 -23 0 32 3 2 0 -31 3 -1 0 49 3 5 0 -70 3 22 0 38 3 -7 0 -27 3 -5 0 20 3 13 0 -20 3 0 0 19 3 1 0 -24 3 -3 0 36 3 -22 0 -21 3 15 0 29 3 -12 0 -13 3 -22 0 48 3 1 0 -31 3 -9 0 13 3 32 0 -42 3 -10 0 34 3 -1 0 -32 3 2 0 40 3 -11 0 -14 3 -19 0 29 3 1 0 -46 3 37 0 15 3 7 0 -27 3 1 0 30 3 -14 0 -21 3 -1 0 31 3 11 0 -23 3 -25 0 53 3 -32 0 -21 3 8 0 35 3 -31 0 -26 3 26 0 10 3 22 0 -20 3 -14 0 25 3 -1 0 -28 3 -3 0 28 3 -4 0 -15 3 -19 0 50 3 -3 0 -15 3 -21 0 30 3 -2 0 -28 3 9 0 20 3 3 0 -42 3 -35 0 43 3 8 0 -18 3 27 0 22 3 4 0 -37 3 -4 0 28 3 16 0 -37 3 -1 0 29 3 16 0 -28 3 -42 0 50 3 17 0 -40 3 -1 0 24 3 -6 0 -9 3 -15 0 47 3 13 0 -47 3 12 0 11 3 -2 0 -24 3 9 0 15 3 12 0 -40 3 8 0 35 3 0 0 -35 3 -1 0 29 3 -11 0 -15 3 -4 0 42 3 -19 0 -19 3 -11 0 34 3 -6 0 -14 3 -22 0 73 3 -32 0 -53 3 26 0 26 3 6 0 -50 3 18 0 14 3 19 0 -17 3 -18 0 23 3 11 0 -22 3 -10 0 25 3 -3 0 -37 3 19 0 24 3 7 0 -18 3 -4 0 12 3 -4 0 -27 3 -1 0 43 3 -7 0 -33 3 3 0 37 3 -6 0 -25 3 -1 0 26 3 9 0 -42 3 1 0 36 3 -11 0 -34 3 17 0 30 3 -2 0 -9 3 -15 0 27 3 -2 0 -25 3 11 0 12 3 6 0 -40 3 -8 0 30 3 7 0 -24 3 6 0 39 3 -14 0 -30 3 4 0 30 3 -4 0 -30 3 -4 0 28 3 -5 0 -22 3 18 0 22 3 0 0 -50 3 33 0 18 3 -13 0 -25 3 -3 0 48 3 -37 0 -15 3 19 0 28 3 -9 0 -25 3 13 0 17 3 12 0 -45 3 13 0 10 3 6 0 -28 3 5 0 21 3 -6 0 -11 3 -14 0 16 3 31 0 -23 3 -4 0 26 3 -8 0 -21 3 2 0 18 3 -4 0 -33 3 23 0 18 3 -10 0 -19 3 0 0 26 3 3 0 -39 3 -7 0 35 3 -3 0 -22 3 -1 0 53 3 1 0 -38 3 -1 0 22 3 7 0 -31 3 -19 0 41 3 -4 0 -22 3 -6 0 25 3 12 0 -44 3 19 0 27 3 -11 0 -21 3 15 0 24 3 -4 0 -46 3 4 0 30 3 6 0 -28 3 -9 0 39 3 10 0 -29 3 -3 0 22 3 -9 0 -23 3 4 0 25 3 6 0 -31 3 10 0 21 3 16 0 -50 3 -2 0 37 3 -10 0 -24 3 7 0 16 3 -1 0 -15 3 -12 0 33 3 -13 0 -12 3 -4 0 20 3 6 0 -41 3 14 0 22 3 7 0 -33 3 9 0 17 3 -3 0 -13 3 -4 0 31 3 2 0 -35 3 2 0 29 3 19 0 -39 3 3 0 13 3 15 0 -71 3 27 0 25 3 -4 0 -24 3 5 0 23 3 6 0 -22 3 8 0 24 3 -17 0 -8 3 -10 0 23 3 2 0 -24 3 -10 0 32 3 12 0 -41 3 -8 0 15 3 23 0 -40 3 21 0 25 3 -9 0 -35 3 -6 0 20 3 -30 0 -25 3 -19 0 28 3 38 0 -20 3 7 0 23 3 31 0 -37 3 2 0 36 3 -1 0 -26 3 5 0 15 3 14 0 -37 3 10 0 12 3 3 0 -27 3 -25 0 53 3 -4 0 -19 3 -7 0 44 3 -15 0 -15 3 -9 0 34 3 -9 0 -21 3 1 0 7 3 15 0 -16 3 -23 0 44 3 -4 0 -31 3 -8 0 33 3 14 0 -36 3 -6 0 29 3 4 0 -27 3 -12 0 38 3 -17 0 -21 3 3 0 5 3 -51 0 -5 3 24 0 30 3 14 0 -28 3 2 0 24 3 -1 0 -12 3 -2 0 23 3 11 0 -27 3 -16 0 48 3 -28 0 -31 3 26 0 10 3 3 0 -34 3 -21 0 32 3 -16 0 -27 3 33 0 40 3 2 0 -20 3 -6 0 45 3 -5 0 -28 3 -13 0 26 3 3 0 -9 3 -36 0 40 3 13 0 -23 3 -29 0 40 3 19 0 -42 3 24 0 4 3 19 0 -33 3 -33 0 31 3 25 0 -28 3 -9 0 39 3 -3 0 -60 3 24 0 37 3 9 0 -29 3 -9 0 25 3 -11 0 -21 3 -1 0 36 3 -25 0 -22 3 4 0 16 3 25 0 -56 3 17 0 20 3 1 0 -18 3 5 0 19 3 -21 0 -20 3 -13 0 31 3 -90 0 -18 3 -54 0 19 3 85 0 -31 3 56 0 28 3 6 0 -19 3 3 0 35 3 5 0 -27 3 -3 0 36 3 -34 0 -7 3 -2 0 17 3 -32 0 -30 3 -79 0 31 3 0 0 -35 3 73 0 31 3 56 0 -52 3 13 0 26 3 4 0 -17 3 -19 0 17 3 5 0 -9 3 -40 0 37 3 -46 0 -12 3 7 0 23 3 45 0 -30 3 3 0 22 3 40 0 -33 3 1 0 29 3 -20 0 -23 3 -5 0 50 3 0 0 -26 3 -17 0 21 3 14 0 -30 3 7 0 32 3 -36 0 -4 3 5 0 29 3 -1 0 -45 3 0 0 33 3 33 0 -53 3 -1 0 24 3 12 0 -49 3 20 0 17 3 9 0 -24 3 3 0 18 3 13 0 -37 3 -8 0 22 3 -16 0 -12 3 2 0 42 3 -12 0 -8 3 -34 0 29 3 16 0 -22 3 -14 0 20 3 6 0 -19 3 13 0 16 3 5 0 -17 3 -25 0 45 3 -4 0 -31 3 -3 0 39 3 31 0 -72 3 -20 0 59 3 -6 0 -36 3 5 0 21 3 5 0 -32 3 13 0 24 3 5 0 -37 3 -8 0 46 3 -27 0 -13 3 -4 0 21 3 1 0 -32 3 -7 0 36 3 -46 0 -14 3 -61 0 30 3 11 0 -13 3 42 0 18 3 17 0 -12 3 -3 0 20 3 14 0 -34 3 -10 0 14 3 -35 0 -7 3 -25 0 17 3 26 0 -29 3 20 0 20 3 23 0 -37 3 -6 0 17 3 -2 0 -17 3 -14 0 27 3 -31 0 -9 3 -49 0 42 3 -64 0 -24 3 -108 0 6 3 -281 0 -12 3 -490 0 21 3 -528 0 -11 3 -122 0 18 3 450 0 -19 3 523 0 15 3 342 0 -16 3 157 0 13 3 57 0 -25 3 -51 0 16 3 -94 0 -12 3 -21 0 17 3 115 0 -28 3 114 0 10 3 75 0 -40 3 11 0 55 3 18 0 -37 3 12 0 17 3 13 0 -25 3 2 0 17 3 21 0 -16 3 -23 0 33 3 -17 0 -11 3 0 0 22 3 11 0 -28 3 10 0 15 3 3 0 -36 3 27 0 2 3 2 0 -18 3 1 0 39 3 -28 0 -33 3 9 0 54 3 -9 0 -18 3 -12 0 26 3 32 0 -67 3 11 0 23 3 15 0 -34 3 4 0 28 3 -2 0 -25 3 -3 0 28 3 -8 0 -18 3 -7 0 28 3 -13 0 -33 3 18 0 20 3 15 0 -48 3 19 0 18 3 5 0 -16 3 -23 0 54 3 -11 0 -41 3 -2 0 39 3 8 0 -32 3 -12 0 35 3 -11 0 -16 3 -20 0 50 3 21 0 -47 3 -6 0 23 3 13 0 -29 3 5 0 15 3 4 0 -32 3 10 0 28 3 -15 0 -34 3 13 0 27 3 6 0 -14 3 -10 0 44 3 -27 0 -12 3 -15 0 41 3 7 0 -47 3 14 0 28 3 -13 0 -21 3 5 0 36 3 -20 0 -35 3 8 0 42 3 -6 0 -49 3 18 0 44 3 -31 0 -19 3 13 0 24 3 -9 0 -29 3 6 0 31 3 -8 0 -11 3 -18 0 22 3 32 0 -46 3 -28 0 59 3 -11 0 -24 3 14 0 2 3 14 0 -24 3 -19 0 23 3 8 0 -23 3 10 0 49 3 -21 0 -30 3 -15 0 45 3 -5 0 -40 3 15 0 19 3 4 0 -21 3 -11 0 33 3 14 0 -45 3 3 0 25 3 0 0 -36 3 10 0 17 3 10 0 -36 3 11 0 29 3 9 0 -50 3 8 0 40 3 -24 0 -18 3 -20 0 40 3 -6 0 -46 3 26 0 20 3 -13 0 -25 3 -12 0 26 3 -10 0 -33 3 -12 0 16 3 -31 0 -21 3 -79 0 17 3 -89 0 -8 3 -110 0 16 3 -79 0 -11 3 -13 0 26 3 67 0 -5 3 95 0 22 3 96 0 -35 3 71 0 22 3 64 0 -31 3 16 0 17 3 22 0 -19 3 0 0 51 3 4 0 -29 3 -16 0 33 3 6 0 -25 3 0 0 21 3 19 0 -28 3 -1 0 35 3 -12 0 -24 3 1 0 25 3 7 0 -36 3 -27 0 40 3 -34 0 -11 3 25 0 15 3 37 0 -56 3 11 0 38 3 -1 0 -15 3 -9 0 25 3 -3 0 -26 3 11 0 37 3 -21 0 -15 3 -3 0 23 3 -13 0 -13 3 -2 0 42 3 -17 0 -33 3 4 0 12 3 37 0 -43 3 -4 0 31 3 13 0 -28 3 -22 0 36 3 -4 0 -31 3 0 0 47 3 -10 0 -32 3 2 0 38 3 -15 0 -25 3 21 0 23 3 4 0 -35 3 5 0 13 3 3 0 -19 3 -25 0 53 3 -16 0 -24 3 17 0 23 3 2 0 -29 3 -19 0 47 3 27 0 -68 3 20 0 12 3 9 0 -49 3 12 0 39 3 4 0 -37 3 -2 0 29 3 15 0 -38 3 7 0 19 3 -7 0 -41 3 6 0 43 3 2 0 -36 3 0 0 46 3 1 0 -60 3 10 0 50 3 -25 0 -12 3 -10 0 16 3 4 0 -17 3 4 0 39 3 -13 0 -29 3 9 0 19 3 -9 0 -22 3 -7 0 29 3 6 0 -27 3 -4 0 29 3 5 0 -53 3 52 0 6 3 20 0 -34 3 -21 0 26 3 -2 0 -26 3 0 0 40 3 -9 0 -32 3 19 0 27 3 -4 0 -33 3 -28 0 26 3 0 0 -10 3 -15 0 25 3 -7 0 -32 3 -21 0 42 3 -22 0 -11 3 3 0 24 3 23 0 -30 3 11 0 20 3 7 0 -34 3 20 0 31 3 -6 0 -33 3 16 0 21 3 7 0 -30 3 -13 0 44 3 18 0 -35 3 -35 0 54 3 3 0 -48 3 16 0 29 3 0 0 -27 3 -20 0 49 3 0 0 -23 3 -8 0 39 3 0 0 -15 3 -5 0 28 3 -25 0 -18 3 -13 0 33 3 28 0 -42 3 -12 0 32 3 -10 0 -8 3 -34 0 49 3 19 0 -45 3 9 0 24 3 -8 0 -18 3 -16 0 26 3 22 0 -58 3 28 0 28 3 -14 0 -15 3 -18 0 28 3 18 0 -29 3 4 0 28 3 -9 0 -39 3 3 0 48 3 -5 0 -38 3 11 0 20 3 -9 0 -11 3 -12 0 31 3 18 0 -48 3 -10 0 28 3 12 0 -34 3 4 0 27 3 0 0 -25 3 -2 0 29 3 -20 0 -30 3 11 0 14 3 31 0 -53 3 -18 0 50 3 -18 0 -48 3 14 0 26 3 -4 0 -23 3 -4 0 7 3 22 0 -30 3 18 0 19 3 -3 0 -22 3 -4 0 35 3 0 0 -17 3 8 0 19 3 12 0 -33 3 3 0 28 3 0 0 -32 3 25 0 24 3 -14 0 -13 3 -2 0 27 3 7 0 -27 3 -4 0 27 3 -13 0 -22 3 9 0 41 3 -13 0 -27 3 -4 0 21 3 -5 0 -31 3 7 0 14 3 20 0 -32 3 3 0 20 3 -7 0 -18 3 0 0 43 3 -24 0 -13 3 8 0 10 3 18 0 -56 3 23 0 23 3 -4 0 -10 3 -14 0 22 3 13 0 -47 3 -6 0 36 3 26 0 -34 3 -15 0 30 3 6 0 -39 3 6 0 36 3 -12 0 -31 3 -12 0 28 3 5 0 -36 3 5 0 17 3 -17 0 -16 3 -44 0 17 3 -39 0 -16 3 -17 0 13 3 6 0 -29 3 10 0 12 3 58 0 -36 3 32 0 39 3 2 0 -22 3 30 0 21 3 7 0 -15 3 -10 0 17 3 8 0 -22 3 10 0 28 3 14 0 -41 3 3 0 20 3 -6 0 -14 3 3 0 28 3 -16 0 -25 3 17 0 15 3 5 0 -22 3 -4 0 48 3 -17 0 -22 3 2 0 31 3 -3 0 -45 3 -12 0 53 3 -3 0 -38 3 -5 0 32 3 5 0 -40 3 -6 0 52 3 -22 0 -12 3 13 0 24 3 -6 0 -53 3 28 0 42 3 -32 0 -15 3 13 0 10 3 5 0 -29 3 12 0 24 3 -6 0 -25 3 6 0 16 3 11 0 -29 3 -20 0 49 3 3 0 -45 3 16 0 10 3 22 0 -30 3 -29 0 46 3 19 0 -47 3 4 0 32 3 -5 0 -18 3 -18 0 44 3 -9 0 -32 3 9 0 29 3 -8 0 -9 3 -4 0 12 3 3 0 -24 3 -12 0 46 3 -27 0 -3 3 -10 0 20 3 5 0 -25 3 2 0 25 3 5 0 -16 3 -19 0 42 3 5 0 -30 3 -29 0 50 3 0 0 -20 3 -36 0 58 3 -4 0 -21 3 -13 0 49 3 -12 0 -26 3 -20 0 33 3 8 0 -24 3 -11 0 63 3 -27 0 -28 3 11 0 17 3 -1 0 -29 3 7 0 19 3 7 0 -17 3 -17 0 45 3 -13 0 -27 3 2 0 23 3 7 0 -17 3 -16 0 37 3 -5 0 -27 3 -14 0 37 3 4 0 -38 3 18 0 28 3 -13 0 -30 3 -3 0 17 3 23 0 -25 3 -14 0 44 3 -8 0 -24 3 -13 0 31 3 6 0 -50 3 2 0 52 3 34 0 -101 3 46 0 15 3 19 0 -40 3 -8 0 33 3 12 0 -46 3 9 0 32 3 -5 0 -19 3 -5 0 13 3 12 0 -34 3 -1 0 28 3 12 0 -42 3 0 0 33 3 4 0 -24 3 -18 0 21 3 17 0 -17 3 0 0 17 3 8 0 -32 3 -11 0 37 3 5 0 -22 3 -22 0 18 3 5 0 -36 3 3 0 40 3 8 0 -43 3 20 0 27 3 -7 0 -17 3 -2 0 15 3 5 0 -22 3 -7 0 24 3 3 0 -14 3 -2 0 24 3 -11 0 -12 3 -17 0 20 3 11 0 -32 3 22 0 28 3 -16 0 -12 3 2 0 8 3 6 0 -28 3 -2 0 27 3 0 0 -23 3 3 0 16 3 27 0 -36 3 -20 0 17 3 13 0 -5 3 -27 0 38 3 1 0 -23 3 5 0 22 3 -11 0 -49 3 30 0 22 3 8 0 -29 3 7 0 32 3 -30 0 -16 3 4 0 25 3 1 0 -27 3 29 0 14 3 -15 0 -25 3 -3 0 17 3 31 0 -63 3 -1 0 36 3 9 0 -27 3 11 0 10 3 8 0 -38 3 24 0 21 3 -22 0 -8 3 5 0 13 3 11 0 -32 3 -36 0 53 3 15 0 -35 3 16 0 12 3 -5 0 -24 3 12 0 19 3 14 0 -48 3 6 0 30 3 -18 0 -16 3 24 0 25 3 -17 0 -28 3 8 0 14 3 -11 0 -4 3 2 0 15 3 4 0 -29 3 -7 0 17 3 13 0 -32 3 15 0 24 3 -2 0 -34 3 -6 0 24 3 1 0 -15 3 -13 0 19 3 7 0 -37 3 11 0 24 3 -3 0 -24 3 9 0 16 3 2 0 -26 3 -12 0 19 3 -2 0 -60 3 -19 0 52 3 -71 0 -17 3 -55 0 33 3 1 0 -23 3 26 0 22 3 58 0 -14 3 32 0 26 3 14 0 -21 3 -26 0 46 3 29 0 -23 3 -8 0 16 3 -1 0 -11 3 11 0 12 3 -10 0 -33 3 13 0 26 3 -8 0 -9 3 3 0 14 3 -9 0 -7 3 3 0 43 3 -19 0 -16 3 -14 0 44 3 -29 0 -25 3 9 0 42 3 1 0 -41 3 -10 0 44 3 -16 0 -29 3 15 0 16 3 7 0 -25 3 -9 0 36 3 -9 0 -18 3 -4 0 27 3 7 0 -40 3 20 0 30 3 -9 0 -28 3 4 0 8 3 19 0 -47 3 10 0 19 3 12 0 -42 3 7 0 30 3 10 0 -24 3 -24 0 49 3 -11 0 -36 3 24 0 25 3 2 0 -33 3 -11 0 27 3 -10 0 -15 3 2 0 23 3 8 0 -22 3 -12 0 35 3 -11 0 -19 3 -3 0 41 3 -40 0 -15 3 -1 0 34 3 18 0 -29 3 -9 0 38 3 -22 0 -12 3 11 0 8 3 3 0 -25 3 -18 0 45 3 11 0 -47 3 16 0 20 3 -4 0 -19 3 -3 0 25 3 -4 0 -23 3 5 0 28 3 -22 0 -22 3 13 0 22 3 -5 0 -31 3 0 0 34 3 -4 0 -20 3 -9 0 32 3 17 0 -34 3 -13 0 29 3 3 0 -10 3 -19 0 23 3 14 0 -46 3 16 0 26 3 -7 0 -32 3 -12 0 23 3 39 0 -44 3 3 0 46 3 -24 0 -25 3 3 0 45 3 -21 0 -19 3 -2 0 19 3 14 0 -30 3 -6 0 43 3 -7 0 -53 3 35 0 14 3 10 0 -42 3 -7 0 43 3 6 0 -52 3 -4 0 68 3 -33 0 -28 3 7 0 32 3 -18 0 -24 3 -18 0 15 3 -14 0 -21 3 37 0 42 3 -11 0 -19 3 0 0 32 3 3 0 -28 3 -5 0 23 3 -10 0 -14 3 6 0 31 3 -8 0 -40 3 11 0 18 3 22 0 -20 3 -17 0 20 3 13 0 -42 3 1 0 25 3 12 0 -45 3 18 0 12 3 28 0 -31 3 -16 0 32 3 -17 0 -17 3 -1 0 30 3 16 0 -36 3 -2 0 28 3 5 0 -34 3 4 0 16 3 -1 0 -19 3 -12 0 34 3 6 0 -16 3 -12 0 22 3 7 0 -30 3 11 0 15 3 -7 0 -6 3 -15 0 42 3 -4 0 -32 3 -8 0 38 3 0 0 -16 3 -25 0 13 3 44 0 -52 3 7 0 26 3 -4 0 -24 3 3 0 17 3 -14 0 -24 3 12 0 33 3 4 0 -33 3 -9 0 43 3 -12 0 -25 3 12 0 25 3 -5 0 -18 3 4 0 20 3 -10 0 -27 3 12 0 14 3 1 0 -20 3 3 0 60 3 -32 0 -37 3 7 0 22 3 3 0 -38 3 3 0 31 3 2 0 -30 3 13 0 18 3 20 0 -64 3 24 0 17 3 21 0 -26 3 -2 0 34 3 -8 0 -37 3 -1 0 28 3 -2 0 -44 3 -7 0 43 3 15 0 -59 3 16 0 23 3 1 0 -23 3 20 0 25 3 -13 0 -33 3 -14 0 71 3 -25 0 -23 3 -25 0 33 3 29 0 -43 3 8 0 24 3 -3 0 -19 3 4 0 10 3 26 0 -49 3 8 0 45 3 -1 0 -65 3 7 0 30 3 24 0 -41 3 15 0 25 3 -22 0 -30 3 -2 0 38 3 -13 0 -13 3 13 0 25 3 -7 0 -36 3 15 0 8 3 16 0 -32 3 1 0 24 3 -8 0 -14 3 -3 0 33 3 -12 0 -29 3 7 0 45 3 -5 0 -40 3 -11 0 51 3 -6 0 -24 3 -3 0 27 3 -4 0 -34 3 -2 0 58 3 -12 0 -44 3 15 0 20 3 -18 0 -16 3 -6 0 52 3 -19 0 -29 3 9 0 19 3 8 0 -31 3 17 0 15 3 9 0 -28 3 -16 0 44 3 -2 0 -34 3 -1 0 27 3 -6 0 -22 3 -2 0 18 3 6 0 -17 3 -6 0 29 3 20 0 -40 3 0 0 20 3 -5 0 -19 3 5 0 37 3 -11 0 -34 3 -16 0 40 3 6 0 -25 3 9 0 22 3 6 0 -39 3 1 0 29 3 -1 0 -28 3 -19 0 20 3 47 0 -48 3 1 0 20 3 13 0 -45 3 17 0 20 3 -23 0 -15 3 16 0 17 3 17 0 -36 3 -3 0 12 3 -6 0 -13 3 3 0 41 3 -2 0 -46 3 12 0 18 3 18 0 -48 3 11 0 14 3 16 0 -18 3 -9 0 27 3 -18 0 -15 3 3 0 27 3 -7 0 -10 3 -14 0 14 3 10 0 -14 3 -20 0 38 3 -15 0 -33 3 12 0 14 3 -17 0 -21 3 -7 0 13 3 -20 0 -24 3 -16 0 13 3 11 0 -35 3 19 0 11 3 32 0 -34 3 18 0 44 3 9 0 -27 3 7 0 19 3 22 0 -31 3 1 0 35 3 -9 0 -47 3 22 0 36 3 -2 0 -42 3 17 0 28 3 1 0 -35 3 -5 0 34 3 -15 0 -15 3 17 0 10 3 4 0 -18 3 4 0 14 3 -6 0 -27 3 10 0 40 3 -2 0 -56 3 2 0 33 3 22 0 -20 3 -37 0 37 3 19 0 -24 3 -4 0 9 3 10 0 -40 3 7 0 57 3 -31 0 -13 3 -24 0 37 3 12 0 -21 3 -12 0 50 3 -17 0 -37 3 0 0 25 3 2 0 -48 3 34 0 7 3 7 0 -46 3 19 0 26 3 4 0 -11 3 -8 0 14 3 -10 0 -37 3 25 0 11 3 15 0 -17 3 -18 0 12 3 25 0 -29 3 -10 0 32 3 -15 0 -39 3 9 0 25 3 11 0 -39 3 13 0 23 3 -20 0 -37 3 17 0 33 3 -1 0 -25 3 -23 0 53 3 -2 0 -17 3 -1 0 19 3 15 0 -18 3 -12 0 36 3 -8 0 -15 3 -9 0 22 3 22 0 -19 3 -24 0 26 3 19 0 -30 3 -13 0 19 3 4 0 -15 3 0 0 22 3 -2 0 -20 3 1 0 31 3 -11 0 -13 3 -9 0 21 3 6 0 -2 3 -47 0 46 3 -4 0 -31 3 -19 0 44 3 -5 0 -10 3 -18 0 50 3 -11 0 -37 3 12 0 26 3 -17 0 -9 3 -11 0 39 3 -19 0 -18 3 -16 0 25 3 4 0 -22 3 -21 0 41 3 9 0 -27 3 13 0 21 3 14 0 -50 3 15 0 31 3 11 0 -33 3 7 0 18 3 3 0 -39 3 13 0 39 3 -13 0 -55 3 22 0 22 3 16 0 -37 3 5 0 11 3 6 0 -25 3 8 0 28 3 -7 0 -32 3 3 0 19 3 17 0 -28 3 21 0 18 3 -20 0 -9 3 10 0 5 3 6 0 -34 3 8 0 27 3 -1 0 -17 3 -12 0 29 3 5 0 -30 3 -16 0 50 3 -14 0 -16 3 5 0 21 3 0 0 -21 3 -4 0 34 3 -24 0 -6 3 -2 0 23 3 10 0 -61 3 29 0 13 3 8 0 -23 3 0 0 31 3 -14 0 -28 3 4 0 16 3 31 0 -26 3 -20 0 40 3 -14 0 -36 3 13 0 36 3 -28 0 -43 3 31 0 22 3 14 0 -28 3 6 0 18 3 8 0 -53 3 6 0 40 3 -2 0 -25 3 -3 0 20" stroke="#1a70dd" stroke-width="8.8"/>
</g>
<rect x="163.7" y="15.9" width="2109.5" height="6.5" fill="#000"/>
<rect x="170.5" y="22.4" width="2096.2" height="2.6" fill="#666"/>
<rect x="170.5" y="25.0" width="2.5" height="1735.8" fill="#d4d4d4"/>
<rect x="2273.2" y="15.9" width="2.8" height="1751.0" fill="#9c9c9c"/>
<rect x="163.7" y="15.9" width="6.8" height="1751.0" fill="#000"/>
<rect x="2266.7" y="15.9" width="6.5" height="1751.0" fill="#000"/>
<rect x="163.7" y="1760.8" width="2109.5" height="6.1" fill="#000"/>
<line x1="401.1" y1="1726" x2="401.1" y2="1762" stroke="#000" stroke-width="8.8"/>
<line x1="868.1" y1="1726" x2="868.1" y2="1762" stroke="#000" stroke-width="8.8"/>
<line x1="1335.2" y1="1726" x2="1335.2" y2="1762" stroke="#000" stroke-width="8.8"/>
<line x1="1802.4" y1="1726" x2="1802.4" y2="1762" stroke="#000" stroke-width="8.8"/>
<line x1="634.6" y1="1744.5" x2="634.6" y2="1762" stroke="#000" stroke-width="8.8"/>
<line x1="1101.7" y1="1744.5" x2="1101.7" y2="1762" stroke="#000" stroke-width="8.8"/>
<line x1="1568.8" y1="1744.5" x2="1568.8" y2="1762" stroke="#000" stroke-width="8.8"/>
<line x1="2035.9" y1="1744.5" x2="2035.9" y2="1762" stroke="#000" stroke-width="8.8"/>
<text x="399.6" y="1870.8" font-size="85" font-weight="bold" text-anchor="middle">20</text>
<text x="866.6" y="1870.8" font-size="85" font-weight="bold" text-anchor="middle">40</text>
<text x="1333.8" y="1870.8" font-size="85" font-weight="bold" text-anchor="middle">60</text>
<text x="1800.9" y="1870.8" font-size="85" font-weight="bold" text-anchor="middle">80</text>
<text x="2267.9" y="1870.8" font-size="85" font-weight="bold" text-anchor="middle">100</text>
<text x="1009.9" y="1982" font-size="103" font-weight="bold">2<tspan font-weight="normal">θ</tspan> (deg.)</text>
<text transform="translate(82,892) rotate(-90)" x="0" y="0" font-size="102" font-weight="bold" text-anchor="middle">Intensity (a.u.)</text>
<path d="M198.1,81.1L258.5,81.1L229.4,144.5L224.0,144.5ZM212.1,86.5L248.3,86.5L229.2,122.8Z" fill="#000" fill-rule="evenodd"/>
<text x="260.3" y="144.2" font-size="95" font-weight="bold">-FCC</text>
<path d="M231.3,229.3C228.3,220.0 224.3,219.0 219.2,219.0C210.7,219.0 206.2,225.2 206.2,234.4C206.2,243.1 212.2,249.8 219.7,257.5L231.3,270.3L242.9,257.5C250.4,249.8 256.4,243.1 256.4,234.4C256.4,225.2 251.9,219.0 243.4,219.0C238.3,219.0 234.3,220.0 231.3,229.3Z" fill="#000"/>
<text x="264" y="269.3" font-size="95" font-weight="bold">-Ni</text>
<path d="M230.9,342.8L252.55,369.5L230.9,396.2L209.25,369.5Z" fill="#000"/>
<text x="264" y="395.1" font-size="95" font-weight="bold">-MoS<tspan font-size="60" dy="24">2</tspan></text>
<circle cx="230.5" cy="511.3" r="30.1" fill="none" stroke="#000" stroke-width="5.0"/><path d="M213.2,494.0L247.8,528.6M213.2,528.6L247.8,494.0" stroke="#000" stroke-width="4.2"/>
<text x="265.5" y="541.3" font-size="95" font-weight="bold">-Ag</text>
<text x="195.2" y="668.4" font-size="95" font-weight="bold"><tspan font-weight="normal">ϕ</tspan>-Cr<tspan font-size="60" dy="24">2</tspan><tspan dy="-24">O</tspan><tspan font-size="60" dy="24">3</tspan></text>
<line x1="1194" y1="143.2" x2="1343" y2="143.2" stroke="#505050" stroke-width="4.6"/>
<line x1="1194" y1="237.6" x2="1343" y2="237.6" stroke="#ef4041" stroke-width="4.6"/>
<line x1="1194" y1="332" x2="1343" y2="332" stroke="#1a70dd" stroke-width="4.6"/>
<text x="1356.4" y="164.3" font-size="65" font-weight="bold">HEA-Ni/MoS<tspan font-size="41" dy="16">2</tspan></text>
<text x="1356.4" y="258.6" font-size="65" font-weight="bold">HEA-Ni/MoS<tspan font-size="41" dy="16">2</tspan><tspan dy="-16">-Ag</tspan></text>
<text x="1356.4" y="352.8" font-size="65" font-weight="bold">HEA-Ni/MoS<tspan font-size="41" dy="16">2</tspan><tspan dy="-16">-Ag-Cr</tspan><tspan font-size="41" dy="16">2</tspan><tspan dy="-16">O</tspan><tspan font-size="41" dy="16">3</tspan></text>
<text x="185.3" y="902.7" font-size="65" font-weight="bold">HEA-Ni/MoS<tspan font-size="41" dy="16">2</tspan><tspan dy="-16">-Ag</tspan></text>
<text x="185.3" y="998.6" font-size="65" font-weight="bold">-Cr<tspan font-size="41" dy="16">2</tspan><tspan dy="-16">O</tspan><tspan font-size="41" dy="16">3</tspan></text>
<text x="180.2" y="1248.6" font-size="65" font-weight="bold">HEA-Ni/MoS<tspan font-size="41" dy="16">2</tspan><tspan dy="-16">-Ag</tspan></text>
<text x="173.8" y="1545.2" font-size="65" font-weight="bold">HEA-Ni/MoS<tspan font-size="41" dy="16">2</tspan></text>
<path d="M937.2,49.5L986.4,49.5L962.7,100.5L958.3,100.5ZM948.6,53.8L978.1,53.8L962.5,83.0Z" fill="#000" fill-rule="evenodd"/>
<circle cx="963.5" cy="177.2" r="23.7" fill="none" stroke="#000" stroke-width="4.2"/><path d="M949.8,163.5L977.2,190.9M949.8,190.9L977.2,163.5" stroke="#000" stroke-width="3.6"/>
<path d="M1102.1,771.4L1149.5,771.4L1126.7,821.9L1122.4,821.9ZM1113.1,775.7L1141.5,775.7L1126.5,804.6Z" fill="#000" fill-rule="evenodd"/>
<path d="M1393.5,955.3L1440.9,955.3L1418.1,1005.8L1413.8,1005.8ZM1404.5,959.6L1432.9,959.6L1417.9,988.5Z" fill="#000" fill-rule="evenodd"/>
<path d="M1670.0,958.0L1717.4,958.0L1694.6,1008.0L1690.3,1008.0ZM1681.0,962.3L1709.4,962.3L1694.4,990.9Z" fill="#000" fill-rule="evenodd"/>
<path d="M2045.8,983.6L2093.2,983.6L2070.4,1033.8L2066.1,1033.8ZM2056.8,987.9L2085.2,987.9L2070.2,1016.6Z" fill="#000" fill-rule="evenodd"/>
<path d="M503.2,992.05L520.45,1013.3L503.2,1034.55L485.95,1013.3Z" fill="#000"/>
<text x="777.2" y="896.3" font-size="75">ϕ</text>
<text x="903.3" y="950.4" font-size="75">ϕ</text>
<line x1="786.1" y1="917.4" x2="802.0" y2="958.2" stroke="#000" stroke-width="3.6"/><path d="M823.7,1008.7L789.2,962.6L814.7,953.7Z" fill="#000"/>
<line x1="918.5" y1="970.7" x2="890.4" y2="1003.8" stroke="#000" stroke-width="3.6"/><path d="M857.2,1043.2L880.1,994.9L900.6,1012.8Z" fill="#000"/>
<path d="M846.8,1039.95L864.05,1061.2L846.8,1082.45L829.55,1061.2Z" fill="#000"/>
<circle cx="847.7" cy="1158.0" r="23.7" fill="none" stroke="#000" stroke-width="4.2"/><path d="M834.0,1144.3L861.4,1171.7M834.0,1171.7L861.4,1144.3" stroke="#000" stroke-width="3.6"/>
<path d="M508.3,1251.45L525.55,1272.7L508.3,1293.95L491.05,1272.7Z" fill="#000"/>
<circle cx="1741.2" cy="1269.0" r="23.4" fill="none" stroke="#000" stroke-width="4.2"/><path d="M1727.7,1255.5L1754.7,1282.5M1727.7,1282.5L1754.7,1255.5" stroke="#000" stroke-width="3.6"/>
<path d="M1040.0,1374.5C1037.7,1367.2 1034.5,1366.4 1030.6,1366.4C1024.0,1366.4 1020.5,1371.3 1020.5,1378.6C1020.5,1385.4 1025.2,1390.7 1031.0,1396.8L1040.0,1406.9L1049.0,1396.8C1054.8,1390.7 1059.5,1385.4 1059.5,1378.6C1059.5,1371.3 1056.0,1366.4 1049.4,1366.4C1045.5,1366.4 1042.3,1367.2 1040.0,1374.5Z" fill="#000"/>
<line x1="1035.3" y1="1408" x2="1006.7" y2="1441.3" stroke="#000" stroke-width="3.6"/><path d="M967.4,1483.6L997.6,1433.8L1015.7,1448.9Z" fill="#000"/>
<path d="M934.8,1425.1C932.5,1417.9 929.4,1417.1 925.6,1417.1C919.0,1417.1 915.5,1421.9 915.5,1429.2C915.5,1436.0 920.2,1441.2 925.9,1447.2L934.8,1457.3L943.7,1447.2C949.4,1441.2 954.0,1436.0 954.0,1429.2C954.0,1421.9 950.6,1417.1 944.0,1417.1C940.2,1417.1 937.1,1417.9 934.8,1425.1Z" fill="#000"/>
<path d="M856.2,1512.25L873.45,1533.5L856.2,1554.75L838.95,1533.5Z" fill="#000"/>
<path d="M935.6,1507.75L952.85,1529.0L935.6,1550.25L918.35,1529.0Z" fill="#000"/>
<path d="M504.6,1547.05L521.85,1568.3L504.6,1589.55L487.35,1568.3Z" fill="#000"/>
</svg></body></html>
